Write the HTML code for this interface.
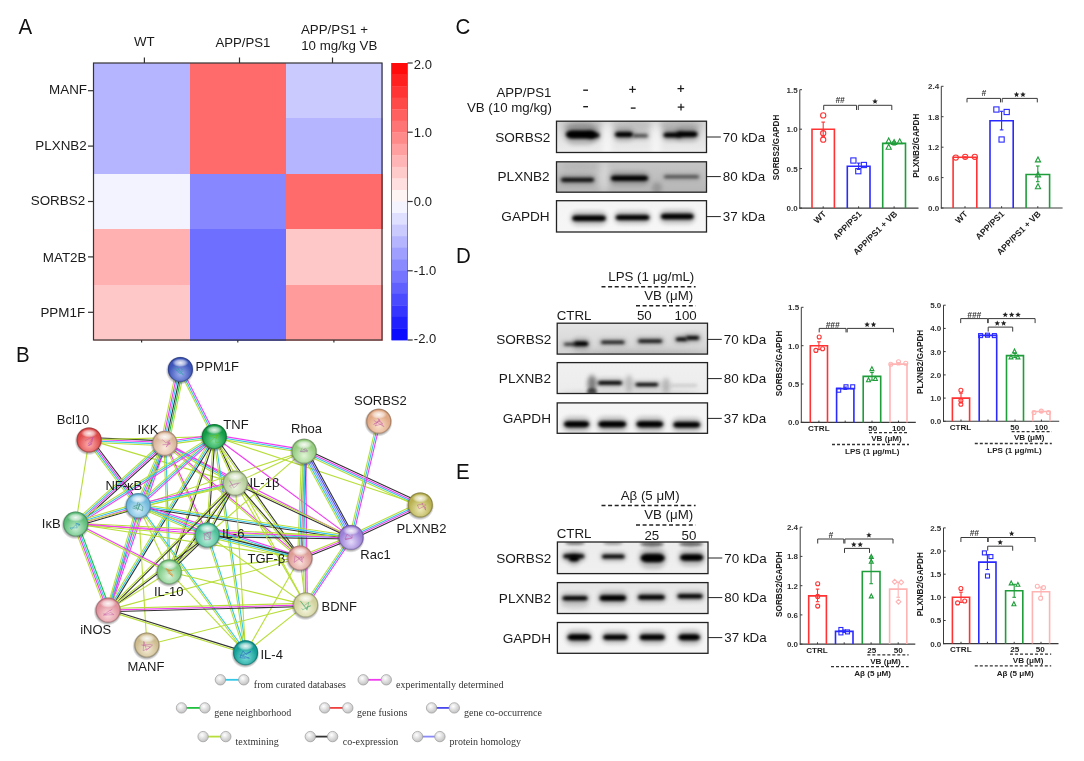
<!DOCTYPE html><html><head><meta charset="utf-8"><title>Figure</title>
<style>html,body{margin:0;padding:0;background:#fff;}svg{display:block;will-change:transform;filter:blur(0.35px);}</style></head><body>
<svg width="1084" height="761" viewBox="0 0 1084 761">
<defs>
<filter id="blur1" x="-50%" y="-100%" width="200%" height="300%"><feGaussianBlur stdDeviation="0.8"/></filter>
<filter id="blur2" x="-50%" y="-100%" width="200%" height="300%"><feGaussianBlur stdDeviation="1.35"/></filter>
<filter id="blur3" x="-50%" y="-100%" width="200%" height="300%"><feGaussianBlur stdDeviation="2.0"/></filter>
<filter id="blur4" x="-50%" y="-100%" width="200%" height="300%"><feGaussianBlur stdDeviation="3.0"/></filter>
</defs>
<rect x="0.0" y="0.0" width="1084.0" height="761.0" fill="#fff" stroke="none" stroke-width="1" />
<text transform="translate(18.6,34.3) scale(1,1.09)" font-size="20.5" fill="#111" font-family='"Liberation Sans", sans-serif'>A</text>
<rect x="93.5" y="63.0" width="96.7" height="55.9" fill="rgb(181,181,255)" stroke="none" stroke-width="1" shape-rendering="crispEdges"/>
<rect x="189.7" y="63.0" width="96.7" height="55.9" fill="rgb(255,107,107)" stroke="none" stroke-width="1" shape-rendering="crispEdges"/>
<rect x="285.8" y="63.0" width="96.7" height="55.9" fill="rgb(202,202,255)" stroke="none" stroke-width="1" shape-rendering="crispEdges"/>
<rect x="93.5" y="118.4" width="96.7" height="55.9" fill="rgb(181,181,255)" stroke="none" stroke-width="1" shape-rendering="crispEdges"/>
<rect x="189.7" y="118.4" width="96.7" height="55.9" fill="rgb(255,107,107)" stroke="none" stroke-width="1" shape-rendering="crispEdges"/>
<rect x="285.8" y="118.4" width="96.7" height="55.9" fill="rgb(181,181,255)" stroke="none" stroke-width="1" shape-rendering="crispEdges"/>
<rect x="93.5" y="173.8" width="96.7" height="55.9" fill="rgb(243,243,255)" stroke="none" stroke-width="1" shape-rendering="crispEdges"/>
<rect x="189.7" y="173.8" width="96.7" height="55.9" fill="rgb(135,135,255)" stroke="none" stroke-width="1" shape-rendering="crispEdges"/>
<rect x="285.8" y="173.8" width="96.7" height="55.9" fill="rgb(255,107,107)" stroke="none" stroke-width="1" shape-rendering="crispEdges"/>
<rect x="93.5" y="229.2" width="96.7" height="55.9" fill="rgb(255,176,176)" stroke="none" stroke-width="1" shape-rendering="crispEdges"/>
<rect x="189.7" y="229.2" width="96.7" height="55.9" fill="rgb(110,110,255)" stroke="none" stroke-width="1" shape-rendering="crispEdges"/>
<rect x="285.8" y="229.2" width="96.7" height="55.9" fill="rgb(255,200,200)" stroke="none" stroke-width="1" shape-rendering="crispEdges"/>
<rect x="93.5" y="284.6" width="96.7" height="55.9" fill="rgb(255,200,200)" stroke="none" stroke-width="1" shape-rendering="crispEdges"/>
<rect x="189.7" y="284.6" width="96.7" height="55.9" fill="rgb(110,110,255)" stroke="none" stroke-width="1" shape-rendering="crispEdges"/>
<rect x="285.8" y="284.6" width="96.7" height="55.9" fill="rgb(255,155,155)" stroke="none" stroke-width="1" shape-rendering="crispEdges"/>
<rect x="93.5" y="63.0" width="288.5" height="277.0" fill="none" stroke="#333" stroke-width="1.2" />
<line x1="144.4" y1="57.5" x2="144.4" y2="63.0" stroke="#333" stroke-width="1.2" />
<line x1="239.5" y1="57.5" x2="239.5" y2="63.0" stroke="#333" stroke-width="1.2" />
<line x1="332.5" y1="57.5" x2="332.5" y2="63.0" stroke="#333" stroke-width="1.2" />
<line x1="141.6" y1="340.0" x2="141.6" y2="342.5" stroke="#333" stroke-width="1.2" />
<line x1="237.8" y1="340.0" x2="237.8" y2="342.5" stroke="#333" stroke-width="1.2" />
<line x1="333.9" y1="340.0" x2="333.9" y2="342.5" stroke="#333" stroke-width="1.2" />
<line x1="88.0" y1="90.7" x2="93.5" y2="90.7" stroke="#333" stroke-width="1.2" />
<text x="87.0" y="93.6" font-size="13.4" text-anchor="end" font-weight="normal" fill="#1a1a1a" font-family='"Liberation Sans", sans-serif' >MANF</text>
<line x1="88.0" y1="146.1" x2="93.5" y2="146.1" stroke="#333" stroke-width="1.2" />
<text x="86.7" y="149.6" font-size="13.4" text-anchor="end" font-weight="normal" fill="#1a1a1a" font-family='"Liberation Sans", sans-serif' >PLXNB2</text>
<line x1="88.0" y1="201.5" x2="93.5" y2="201.5" stroke="#333" stroke-width="1.2" />
<text x="85.1" y="205.1" font-size="13.4" text-anchor="end" font-weight="normal" fill="#1a1a1a" font-family='"Liberation Sans", sans-serif' >SORBS2</text>
<line x1="88.0" y1="256.9" x2="93.5" y2="256.9" stroke="#333" stroke-width="1.2" />
<text x="86.5" y="261.5" font-size="13.4" text-anchor="end" font-weight="normal" fill="#1a1a1a" font-family='"Liberation Sans", sans-serif' >MAT2B</text>
<line x1="88.0" y1="312.3" x2="93.5" y2="312.3" stroke="#333" stroke-width="1.2" />
<text x="85.1" y="316.5" font-size="13.4" text-anchor="end" font-weight="normal" fill="#1a1a1a" font-family='"Liberation Sans", sans-serif' >PPM1F</text>
<text x="144.4" y="46.4" font-size="13.3" text-anchor="middle" font-weight="normal" fill="#1a1a1a" font-family='"Liberation Sans", sans-serif' >WT</text>
<text x="242.9" y="46.6" font-size="13.2" text-anchor="middle" font-weight="normal" fill="#1a1a1a" font-family='"Liberation Sans", sans-serif' >APP/PS1</text>
<text x="301.0" y="34.3" font-size="13.3" text-anchor="start" font-weight="normal" fill="#1a1a1a" font-family='"Liberation Sans", sans-serif' >APP/PS1 +</text>
<text x="301.2" y="50.2" font-size="13.3" text-anchor="start" font-weight="normal" fill="#1a1a1a" font-family='"Liberation Sans", sans-serif' >10 mg/kg VB</text>
<rect x="391.5" y="63.0" width="16.0" height="11.9" fill="rgb(255,11,11)" stroke="none" stroke-width="1" />
<rect x="391.5" y="74.5" width="16.0" height="11.9" fill="rgb(255,32,32)" stroke="none" stroke-width="1" />
<rect x="391.5" y="86.1" width="16.0" height="11.9" fill="rgb(255,53,53)" stroke="none" stroke-width="1" />
<rect x="391.5" y="97.6" width="16.0" height="11.9" fill="rgb(255,74,74)" stroke="none" stroke-width="1" />
<rect x="391.5" y="109.2" width="16.0" height="11.9" fill="rgb(255,96,96)" stroke="none" stroke-width="1" />
<rect x="391.5" y="120.7" width="16.0" height="11.9" fill="rgb(255,117,117)" stroke="none" stroke-width="1" />
<rect x="391.5" y="132.2" width="16.0" height="11.9" fill="rgb(255,138,138)" stroke="none" stroke-width="1" />
<rect x="391.5" y="143.8" width="16.0" height="11.9" fill="rgb(255,159,159)" stroke="none" stroke-width="1" />
<rect x="391.5" y="155.3" width="16.0" height="11.9" fill="rgb(255,181,181)" stroke="none" stroke-width="1" />
<rect x="391.5" y="166.9" width="16.0" height="11.9" fill="rgb(255,202,202)" stroke="none" stroke-width="1" />
<rect x="391.5" y="178.4" width="16.0" height="11.9" fill="rgb(255,223,223)" stroke="none" stroke-width="1" />
<rect x="391.5" y="190.0" width="16.0" height="11.9" fill="rgb(255,244,244)" stroke="none" stroke-width="1" />
<rect x="391.5" y="201.5" width="16.0" height="11.9" fill="rgb(244,244,255)" stroke="none" stroke-width="1" />
<rect x="391.5" y="213.0" width="16.0" height="11.9" fill="rgb(223,223,255)" stroke="none" stroke-width="1" />
<rect x="391.5" y="224.6" width="16.0" height="11.9" fill="rgb(202,202,255)" stroke="none" stroke-width="1" />
<rect x="391.5" y="236.1" width="16.0" height="11.9" fill="rgb(181,181,255)" stroke="none" stroke-width="1" />
<rect x="391.5" y="247.7" width="16.0" height="11.9" fill="rgb(159,159,255)" stroke="none" stroke-width="1" />
<rect x="391.5" y="259.2" width="16.0" height="11.9" fill="rgb(138,138,255)" stroke="none" stroke-width="1" />
<rect x="391.5" y="270.8" width="16.0" height="11.9" fill="rgb(117,117,255)" stroke="none" stroke-width="1" />
<rect x="391.5" y="282.3" width="16.0" height="11.9" fill="rgb(96,96,255)" stroke="none" stroke-width="1" />
<rect x="391.5" y="293.8" width="16.0" height="11.9" fill="rgb(74,74,255)" stroke="none" stroke-width="1" />
<rect x="391.5" y="305.4" width="16.0" height="11.9" fill="rgb(53,53,255)" stroke="none" stroke-width="1" />
<rect x="391.5" y="316.9" width="16.0" height="11.9" fill="rgb(32,32,255)" stroke="none" stroke-width="1" />
<rect x="391.5" y="328.5" width="16.0" height="11.9" fill="rgb(11,11,255)" stroke="none" stroke-width="1" />
<line x1="391.5" y1="63.0" x2="391.5" y2="340.0" stroke="#666" stroke-width="0.8" />
<line x1="407.5" y1="63.0" x2="407.5" y2="340.0" stroke="#666" stroke-width="0.8" />
<line x1="407.5" y1="63.0" x2="412.7" y2="63.0" stroke="#333" stroke-width="1.2" />
<text x="413.8" y="68.9" font-size="13" text-anchor="start" font-weight="normal" fill="#1a1a1a" font-family='"Liberation Sans", sans-serif' >2.0</text>
<line x1="407.5" y1="132.2" x2="412.7" y2="132.2" stroke="#333" stroke-width="1.2" />
<text x="413.8" y="136.9" font-size="13" text-anchor="start" font-weight="normal" fill="#1a1a1a" font-family='"Liberation Sans", sans-serif' >1.0</text>
<line x1="407.5" y1="201.5" x2="412.7" y2="201.5" stroke="#333" stroke-width="1.2" />
<text x="413.8" y="206.2" font-size="13" text-anchor="start" font-weight="normal" fill="#1a1a1a" font-family='"Liberation Sans", sans-serif' >0.0</text>
<line x1="407.5" y1="270.8" x2="412.7" y2="270.8" stroke="#333" stroke-width="1.2" />
<text x="413.8" y="274.6" font-size="13" text-anchor="start" font-weight="normal" fill="#1a1a1a" font-family='"Liberation Sans", sans-serif' >-1.0</text>
<line x1="407.5" y1="340.0" x2="412.7" y2="340.0" stroke="#333" stroke-width="1.2" />
<text x="413.8" y="342.5" font-size="13" text-anchor="start" font-weight="normal" fill="#1a1a1a" font-family='"Liberation Sans", sans-serif' >-2.0</text>
<text transform="translate(16.0,362.4) scale(1,1.09)" font-size="20.5" fill="#111" font-family='"Liberation Sans", sans-serif'>B</text>
<g stroke-linecap="butt" fill="none">
<line x1="184.3" y1="370.2" x2="168.7" y2="444.1" stroke="#b8de3a" stroke-width="1.1"/>
<line x1="182.7" y1="369.9" x2="167.1" y2="443.8" stroke="#22c040" stroke-width="1.1"/>
<line x1="181.2" y1="369.6" x2="165.6" y2="443.5" stroke="#333333" stroke-width="1.1"/>
<line x1="179.6" y1="369.2" x2="164.0" y2="443.1" stroke="#33c6e6" stroke-width="1.1"/>
<line x1="178.1" y1="368.9" x2="162.5" y2="442.8" stroke="#f03cf0" stroke-width="1.1"/>
<line x1="176.5" y1="368.6" x2="160.9" y2="442.5" stroke="#b8de3a" stroke-width="1.1"/>
<line x1="181.8" y1="368.7" x2="215.7" y2="435.8" stroke="#f03cf0" stroke-width="1.1"/>
<line x1="180.4" y1="369.4" x2="214.3" y2="436.5" stroke="#33c6e6" stroke-width="1.1"/>
<line x1="179.0" y1="370.1" x2="212.9" y2="437.2" stroke="#b8de3a" stroke-width="1.1"/>
<line x1="89.2" y1="437.5" x2="164.9" y2="440.9" stroke="#333333" stroke-width="1.1"/>
<line x1="89.1" y1="439.1" x2="164.8" y2="442.5" stroke="#f03cf0" stroke-width="1.1"/>
<line x1="89.1" y1="440.7" x2="164.8" y2="444.1" stroke="#33c6e6" stroke-width="1.1"/>
<line x1="89.0" y1="442.3" x2="164.7" y2="445.7" stroke="#b8de3a" stroke-width="1.1"/>
<line x1="91.0" y1="438.5" x2="140.2" y2="504.2" stroke="#333333" stroke-width="1.1"/>
<line x1="89.7" y1="439.4" x2="138.9" y2="505.1" stroke="#f03cf0" stroke-width="1.1"/>
<line x1="88.5" y1="440.4" x2="137.7" y2="506.1" stroke="#33c6e6" stroke-width="1.1"/>
<line x1="87.2" y1="441.3" x2="136.4" y2="507.0" stroke="#b8de3a" stroke-width="1.1"/>
<line x1="89.1" y1="439.9" x2="75.7" y2="524.0" stroke="#b8de3a" stroke-width="1.1"/>
<line x1="89.1" y1="439.9" x2="214.3" y2="436.5" stroke="#b8de3a" stroke-width="1.1"/>
<line x1="89.1" y1="439.9" x2="235.3" y2="483.1" stroke="#b8de3a" stroke-width="1.1"/>
<line x1="164.6" y1="441.7" x2="214.1" y2="434.9" stroke="#f03cf0" stroke-width="1.1"/>
<line x1="164.8" y1="443.3" x2="214.3" y2="436.5" stroke="#33c6e6" stroke-width="1.1"/>
<line x1="165.0" y1="444.9" x2="214.5" y2="438.1" stroke="#b8de3a" stroke-width="1.1"/>
<line x1="167.0" y1="444.2" x2="140.5" y2="506.5" stroke="#333333" stroke-width="1.1"/>
<line x1="165.5" y1="443.6" x2="139.0" y2="505.9" stroke="#f03cf0" stroke-width="1.1"/>
<line x1="164.1" y1="443.0" x2="137.6" y2="505.3" stroke="#33c6e6" stroke-width="1.1"/>
<line x1="162.6" y1="442.4" x2="136.1" y2="504.7" stroke="#b8de3a" stroke-width="1.1"/>
<line x1="166.4" y1="445.1" x2="77.3" y2="525.8" stroke="#333333" stroke-width="1.1"/>
<line x1="165.3" y1="443.9" x2="76.2" y2="524.6" stroke="#f03cf0" stroke-width="1.1"/>
<line x1="164.3" y1="442.7" x2="75.2" y2="523.4" stroke="#33c6e6" stroke-width="1.1"/>
<line x1="163.2" y1="441.5" x2="74.1" y2="522.2" stroke="#b8de3a" stroke-width="1.1"/>
<line x1="165.5" y1="443.0" x2="207.9" y2="534.7" stroke="#f03cf0" stroke-width="1.1"/>
<line x1="164.1" y1="443.6" x2="206.5" y2="535.3" stroke="#b8de3a" stroke-width="1.1"/>
<line x1="166.3" y1="443.8" x2="109.6" y2="610.6" stroke="#f03cf0" stroke-width="1.1"/>
<line x1="164.8" y1="443.3" x2="108.1" y2="610.1" stroke="#33c6e6" stroke-width="1.1"/>
<line x1="163.3" y1="442.8" x2="106.6" y2="609.6" stroke="#b8de3a" stroke-width="1.1"/>
<line x1="165.6" y1="441.9" x2="236.1" y2="481.7" stroke="#f03cf0" stroke-width="1.1"/>
<line x1="164.8" y1="443.3" x2="235.3" y2="483.1" stroke="#33c6e6" stroke-width="1.1"/>
<line x1="164.0" y1="444.7" x2="234.5" y2="484.5" stroke="#b8de3a" stroke-width="1.1"/>
<line x1="164.8" y1="443.3" x2="351.1" y2="537.4" stroke="#f03cf0" stroke-width="1.1"/>
<line x1="165.6" y1="443.3" x2="170.1" y2="571.8" stroke="#33c6e6" stroke-width="1.1"/>
<line x1="164.0" y1="443.3" x2="168.5" y2="571.8" stroke="#b8de3a" stroke-width="1.1"/>
<line x1="165.3" y1="442.7" x2="300.5" y2="557.4" stroke="#f03cf0" stroke-width="1.1"/>
<line x1="164.3" y1="443.9" x2="299.5" y2="558.6" stroke="#b8de3a" stroke-width="1.1"/>
<line x1="215.0" y1="436.2" x2="236.0" y2="482.8" stroke="#333333" stroke-width="1.1"/>
<line x1="213.6" y1="436.8" x2="234.6" y2="483.4" stroke="#b8de3a" stroke-width="1.1"/>
<line x1="215.1" y1="436.6" x2="208.0" y2="535.1" stroke="#333333" stroke-width="1.1"/>
<line x1="213.5" y1="436.4" x2="206.4" y2="534.9" stroke="#b8de3a" stroke-width="1.1"/>
<line x1="215.4" y1="437.7" x2="139.4" y2="506.8" stroke="#f03cf0" stroke-width="1.1"/>
<line x1="214.3" y1="436.5" x2="138.3" y2="505.6" stroke="#33c6e6" stroke-width="1.1"/>
<line x1="213.2" y1="435.3" x2="137.2" y2="504.4" stroke="#b8de3a" stroke-width="1.1"/>
<line x1="215.2" y1="437.9" x2="76.6" y2="525.4" stroke="#f03cf0" stroke-width="1.1"/>
<line x1="214.3" y1="436.5" x2="75.7" y2="524.0" stroke="#33c6e6" stroke-width="1.1"/>
<line x1="213.4" y1="435.1" x2="74.8" y2="522.6" stroke="#b8de3a" stroke-width="1.1"/>
<line x1="215.1" y1="436.8" x2="170.1" y2="572.1" stroke="#333333" stroke-width="1.1"/>
<line x1="213.5" y1="436.2" x2="168.5" y2="571.5" stroke="#b8de3a" stroke-width="1.1"/>
<line x1="215.7" y1="437.3" x2="109.5" y2="610.9" stroke="#333333" stroke-width="1.1"/>
<line x1="214.3" y1="436.5" x2="108.1" y2="610.1" stroke="#33c6e6" stroke-width="1.1"/>
<line x1="212.9" y1="435.7" x2="106.7" y2="609.3" stroke="#b8de3a" stroke-width="1.1"/>
<line x1="215.1" y1="436.4" x2="246.4" y2="652.6" stroke="#33c6e6" stroke-width="1.1"/>
<line x1="213.5" y1="436.6" x2="244.8" y2="652.8" stroke="#b8de3a" stroke-width="1.1"/>
<line x1="214.6" y1="434.9" x2="304.4" y2="449.6" stroke="#f03cf0" stroke-width="1.1"/>
<line x1="214.3" y1="436.5" x2="304.1" y2="451.2" stroke="#33c6e6" stroke-width="1.1"/>
<line x1="214.0" y1="438.1" x2="303.8" y2="452.8" stroke="#b8de3a" stroke-width="1.1"/>
<line x1="215.0" y1="436.0" x2="300.7" y2="557.5" stroke="#333333" stroke-width="1.1"/>
<line x1="213.6" y1="437.0" x2="299.3" y2="558.5" stroke="#b8de3a" stroke-width="1.1"/>
<line x1="214.3" y1="436.5" x2="305.7" y2="604.9" stroke="#b8de3a" stroke-width="1.1"/>
<line x1="214.3" y1="436.5" x2="351.1" y2="537.4" stroke="#f03cf0" stroke-width="1.1"/>
<line x1="214.3" y1="436.5" x2="420.3" y2="504.9" stroke="#b8de3a" stroke-width="1.1"/>
<line x1="304.1" y1="451.2" x2="235.3" y2="483.1" stroke="#b8de3a" stroke-width="1.1"/>
<line x1="306.9" y1="449.7" x2="353.9" y2="535.9" stroke="#333333" stroke-width="1.1"/>
<line x1="305.5" y1="450.4" x2="352.5" y2="536.6" stroke="#4848f0" stroke-width="1.1"/>
<line x1="304.1" y1="451.2" x2="351.1" y2="537.4" stroke="#8a8af6" stroke-width="1.1"/>
<line x1="302.7" y1="452.0" x2="349.7" y2="538.2" stroke="#33c6e6" stroke-width="1.1"/>
<line x1="301.3" y1="452.7" x2="348.3" y2="538.9" stroke="#b8de3a" stroke-width="1.1"/>
<line x1="306.5" y1="451.3" x2="302.4" y2="558.1" stroke="#333333" stroke-width="1.1"/>
<line x1="304.9" y1="451.2" x2="300.8" y2="558.0" stroke="#f03cf0" stroke-width="1.1"/>
<line x1="303.3" y1="451.2" x2="299.2" y2="558.0" stroke="#33c6e6" stroke-width="1.1"/>
<line x1="301.7" y1="451.1" x2="297.6" y2="557.9" stroke="#b8de3a" stroke-width="1.1"/>
<line x1="305.1" y1="449.0" x2="421.3" y2="502.7" stroke="#333333" stroke-width="1.1"/>
<line x1="304.4" y1="450.5" x2="420.6" y2="504.2" stroke="#f03cf0" stroke-width="1.1"/>
<line x1="303.8" y1="451.9" x2="420.0" y2="505.6" stroke="#33c6e6" stroke-width="1.1"/>
<line x1="303.1" y1="453.4" x2="419.3" y2="507.1" stroke="#b8de3a" stroke-width="1.1"/>
<line x1="305.7" y1="451.2" x2="307.3" y2="604.9" stroke="#f03cf0" stroke-width="1.1"/>
<line x1="304.1" y1="451.2" x2="305.7" y2="604.9" stroke="#33c6e6" stroke-width="1.1"/>
<line x1="302.5" y1="451.2" x2="304.1" y2="604.9" stroke="#b8de3a" stroke-width="1.1"/>
<line x1="304.1" y1="451.2" x2="207.2" y2="535.0" stroke="#b8de3a" stroke-width="1.1"/>
<line x1="304.1" y1="451.2" x2="138.3" y2="505.6" stroke="#b8de3a" stroke-width="1.1"/>
<line x1="380.4" y1="421.6" x2="352.7" y2="537.8" stroke="#f03cf0" stroke-width="1.1"/>
<line x1="378.8" y1="421.2" x2="351.1" y2="537.4" stroke="#33c6e6" stroke-width="1.1"/>
<line x1="377.2" y1="420.8" x2="349.5" y2="537.0" stroke="#b8de3a" stroke-width="1.1"/>
<line x1="421.3" y1="507.1" x2="352.1" y2="539.6" stroke="#333333" stroke-width="1.1"/>
<line x1="420.6" y1="505.6" x2="351.4" y2="538.1" stroke="#f03cf0" stroke-width="1.1"/>
<line x1="420.0" y1="504.2" x2="350.8" y2="536.7" stroke="#33c6e6" stroke-width="1.1"/>
<line x1="419.3" y1="502.7" x2="350.1" y2="535.2" stroke="#b8de3a" stroke-width="1.1"/>
<line x1="351.7" y1="538.9" x2="300.6" y2="559.5" stroke="#333333" stroke-width="1.1"/>
<line x1="351.1" y1="537.4" x2="300.0" y2="558.0" stroke="#f03cf0" stroke-width="1.1"/>
<line x1="350.5" y1="535.9" x2="299.4" y2="556.5" stroke="#b8de3a" stroke-width="1.1"/>
<line x1="350.8" y1="538.1" x2="235.0" y2="483.8" stroke="#333333" stroke-width="1.1"/>
<line x1="351.4" y1="536.7" x2="235.6" y2="482.4" stroke="#b8de3a" stroke-width="1.1"/>
<line x1="351.1" y1="539.0" x2="207.2" y2="536.6" stroke="#333333" stroke-width="1.1"/>
<line x1="351.1" y1="537.4" x2="207.2" y2="535.0" stroke="#33c6e6" stroke-width="1.1"/>
<line x1="351.1" y1="535.8" x2="207.2" y2="533.4" stroke="#b8de3a" stroke-width="1.1"/>
<line x1="350.9" y1="539.0" x2="138.1" y2="507.2" stroke="#333333" stroke-width="1.1"/>
<line x1="351.1" y1="537.4" x2="138.3" y2="505.6" stroke="#33c6e6" stroke-width="1.1"/>
<line x1="351.3" y1="535.8" x2="138.5" y2="504.0" stroke="#b8de3a" stroke-width="1.1"/>
<line x1="352.4" y1="538.3" x2="307.0" y2="605.8" stroke="#f03cf0" stroke-width="1.1"/>
<line x1="351.1" y1="537.4" x2="305.7" y2="604.9" stroke="#33c6e6" stroke-width="1.1"/>
<line x1="349.8" y1="536.5" x2="304.4" y2="604.0" stroke="#b8de3a" stroke-width="1.1"/>
<line x1="351.1" y1="538.2" x2="75.7" y2="524.8" stroke="#f03cf0" stroke-width="1.1"/>
<line x1="351.1" y1="536.6" x2="75.7" y2="523.2" stroke="#b8de3a" stroke-width="1.1"/>
<line x1="137.9" y1="504.0" x2="234.9" y2="481.5" stroke="#f03cf0" stroke-width="1.1"/>
<line x1="138.3" y1="505.6" x2="235.3" y2="483.1" stroke="#33c6e6" stroke-width="1.1"/>
<line x1="138.7" y1="507.2" x2="235.7" y2="484.7" stroke="#b8de3a" stroke-width="1.1"/>
<line x1="138.9" y1="504.1" x2="207.8" y2="533.5" stroke="#f03cf0" stroke-width="1.1"/>
<line x1="138.3" y1="505.6" x2="207.2" y2="535.0" stroke="#33c6e6" stroke-width="1.1"/>
<line x1="137.7" y1="507.1" x2="206.6" y2="536.5" stroke="#b8de3a" stroke-width="1.1"/>
<line x1="139.0" y1="507.9" x2="76.4" y2="526.3" stroke="#333333" stroke-width="1.1"/>
<line x1="138.5" y1="506.4" x2="75.9" y2="524.8" stroke="#f03cf0" stroke-width="1.1"/>
<line x1="138.1" y1="504.8" x2="75.5" y2="523.2" stroke="#33c6e6" stroke-width="1.1"/>
<line x1="137.6" y1="503.3" x2="75.0" y2="521.7" stroke="#b8de3a" stroke-width="1.1"/>
<line x1="139.8" y1="506.0" x2="109.6" y2="610.5" stroke="#f03cf0" stroke-width="1.1"/>
<line x1="138.3" y1="505.6" x2="108.1" y2="610.1" stroke="#33c6e6" stroke-width="1.1"/>
<line x1="136.8" y1="505.2" x2="106.6" y2="609.7" stroke="#b8de3a" stroke-width="1.1"/>
<line x1="138.3" y1="505.6" x2="169.3" y2="571.8" stroke="#b8de3a" stroke-width="1.1"/>
<line x1="138.8" y1="504.1" x2="300.5" y2="556.5" stroke="#f03cf0" stroke-width="1.1"/>
<line x1="138.3" y1="505.6" x2="300.0" y2="558.0" stroke="#33c6e6" stroke-width="1.1"/>
<line x1="137.8" y1="507.1" x2="299.5" y2="559.5" stroke="#b8de3a" stroke-width="1.1"/>
<line x1="138.9" y1="505.1" x2="246.2" y2="652.2" stroke="#33c6e6" stroke-width="1.1"/>
<line x1="137.7" y1="506.1" x2="245.0" y2="653.2" stroke="#b8de3a" stroke-width="1.1"/>
<line x1="138.3" y1="505.6" x2="146.9" y2="645.0" stroke="#b8de3a" stroke-width="1.1"/>
<line x1="236.0" y1="483.5" x2="207.9" y2="535.4" stroke="#333333" stroke-width="1.1"/>
<line x1="234.6" y1="482.7" x2="206.5" y2="534.6" stroke="#b8de3a" stroke-width="1.1"/>
<line x1="235.9" y1="483.6" x2="169.9" y2="572.3" stroke="#333333" stroke-width="1.1"/>
<line x1="234.7" y1="482.6" x2="168.7" y2="571.3" stroke="#b8de3a" stroke-width="1.1"/>
<line x1="235.9" y1="483.7" x2="108.7" y2="610.7" stroke="#333333" stroke-width="1.1"/>
<line x1="234.7" y1="482.5" x2="107.5" y2="609.5" stroke="#b8de3a" stroke-width="1.1"/>
<line x1="235.9" y1="482.6" x2="300.6" y2="557.5" stroke="#333333" stroke-width="1.1"/>
<line x1="234.7" y1="483.6" x2="299.4" y2="558.5" stroke="#b8de3a" stroke-width="1.1"/>
<line x1="235.3" y1="483.1" x2="305.7" y2="604.9" stroke="#b8de3a" stroke-width="1.1"/>
<line x1="235.3" y1="483.1" x2="245.6" y2="652.7" stroke="#b8de3a" stroke-width="1.1"/>
<line x1="235.3" y1="483.1" x2="75.7" y2="524.0" stroke="#b8de3a" stroke-width="1.1"/>
<line x1="77.9" y1="523.2" x2="110.3" y2="609.3" stroke="#22c040" stroke-width="1.1"/>
<line x1="76.4" y1="523.7" x2="108.8" y2="609.8" stroke="#33c6e6" stroke-width="1.1"/>
<line x1="75.0" y1="524.3" x2="107.4" y2="610.4" stroke="#f03cf0" stroke-width="1.1"/>
<line x1="73.5" y1="524.8" x2="105.9" y2="610.9" stroke="#b8de3a" stroke-width="1.1"/>
<line x1="75.8" y1="523.2" x2="207.3" y2="534.2" stroke="#f03cf0" stroke-width="1.1"/>
<line x1="75.6" y1="524.8" x2="207.1" y2="535.8" stroke="#b8de3a" stroke-width="1.1"/>
<line x1="76.1" y1="523.3" x2="169.7" y2="571.1" stroke="#f03cf0" stroke-width="1.1"/>
<line x1="75.3" y1="524.7" x2="168.9" y2="572.5" stroke="#b8de3a" stroke-width="1.1"/>
<line x1="75.7" y1="524.0" x2="300.0" y2="558.0" stroke="#b8de3a" stroke-width="1.1"/>
<line x1="207.8" y1="535.6" x2="169.9" y2="572.4" stroke="#333333" stroke-width="1.1"/>
<line x1="206.6" y1="534.4" x2="168.7" y2="571.2" stroke="#b8de3a" stroke-width="1.1"/>
<line x1="207.7" y1="535.6" x2="108.6" y2="610.7" stroke="#333333" stroke-width="1.1"/>
<line x1="206.7" y1="534.4" x2="107.6" y2="609.5" stroke="#b8de3a" stroke-width="1.1"/>
<line x1="207.6" y1="533.4" x2="300.4" y2="556.4" stroke="#333333" stroke-width="1.1"/>
<line x1="207.2" y1="535.0" x2="300.0" y2="558.0" stroke="#33c6e6" stroke-width="1.1"/>
<line x1="206.8" y1="536.6" x2="299.6" y2="559.6" stroke="#b8de3a" stroke-width="1.1"/>
<line x1="207.2" y1="535.0" x2="305.7" y2="604.9" stroke="#b8de3a" stroke-width="1.1"/>
<line x1="208.0" y1="534.8" x2="246.4" y2="652.5" stroke="#33c6e6" stroke-width="1.1"/>
<line x1="206.4" y1="535.2" x2="244.8" y2="652.9" stroke="#b8de3a" stroke-width="1.1"/>
<line x1="300.0" y1="558.0" x2="305.7" y2="604.9" stroke="#b8de3a" stroke-width="1.1"/>
<line x1="300.0" y1="558.0" x2="169.3" y2="571.8" stroke="#b8de3a" stroke-width="1.1"/>
<line x1="300.0" y1="558.0" x2="108.1" y2="610.1" stroke="#b8de3a" stroke-width="1.1"/>
<line x1="300.0" y1="558.0" x2="245.6" y2="652.7" stroke="#b8de3a" stroke-width="1.1"/>
<line x1="169.3" y1="571.8" x2="108.1" y2="610.1" stroke="#b8de3a" stroke-width="1.1"/>
<line x1="169.3" y1="571.8" x2="305.7" y2="604.9" stroke="#b8de3a" stroke-width="1.1"/>
<line x1="169.3" y1="571.8" x2="245.6" y2="652.7" stroke="#b8de3a" stroke-width="1.1"/>
<line x1="305.7" y1="606.5" x2="108.1" y2="611.7" stroke="#333333" stroke-width="1.1"/>
<line x1="305.7" y1="604.9" x2="108.1" y2="610.1" stroke="#f03cf0" stroke-width="1.1"/>
<line x1="305.7" y1="603.3" x2="108.1" y2="608.5" stroke="#b8de3a" stroke-width="1.1"/>
<line x1="305.7" y1="604.9" x2="245.6" y2="652.7" stroke="#b8de3a" stroke-width="1.1"/>
<line x1="305.7" y1="604.9" x2="146.9" y2="645.0" stroke="#b8de3a" stroke-width="1.1"/>
<line x1="108.3" y1="609.3" x2="245.8" y2="651.9" stroke="#333333" stroke-width="1.1"/>
<line x1="107.9" y1="610.9" x2="245.4" y2="653.5" stroke="#b8de3a" stroke-width="1.1"/>
</g>
<radialGradient id="hl" cx="0.5" cy="0.5" r="0.5"><stop offset="0" stop-color="#fff" stop-opacity="0.9"/><stop offset="0.6" stop-color="#fff" stop-opacity="0.55"/><stop offset="1" stop-color="#fff" stop-opacity="0"/></radialGradient>
<radialGradient id="shd" cx="0.5" cy="0.5" r="0.5"><stop offset="0.75" stop-color="#000" stop-opacity="0.45"/><stop offset="1" stop-color="#000" stop-opacity="0"/></radialGradient>
<radialGradient id="g_PPM1F" cx="0.5" cy="0.68" r="0.62"><stop offset="0" stop-color="#9fb0f0"/><stop offset="0.75" stop-color="#3d55b8"/><stop offset="1" stop-color="#3d55b8" stop-opacity="1"/></radialGradient>
<circle cx="180.0" cy="370.6" r="14.2" fill="url(#shd)"/>
<circle cx="180.4" cy="369.4" r="12.5" fill="url(#g_PPM1F)"/>
<circle cx="180.4" cy="369.4" r="12.0" fill="none" stroke="#000" stroke-opacity="0.22" stroke-width="1.2"/>
<polyline points="180.2,371.8 176.7,366.3 178.1,368.3 183.6,375.2 174.5,368.3 180.1,374.1 182.0,371.6 181.3,368.0 183.2,370.1" fill="none" stroke="#20a0a0" stroke-width="0.8" opacity="0.55"/>
<ellipse cx="180.4" cy="362.8" rx="8.2" ry="4.3" fill="url(#hl)"/>
<radialGradient id="g_Bcl10" cx="0.5" cy="0.68" r="0.62"><stop offset="0" stop-color="#ffb0b0"/><stop offset="0.75" stop-color="#dd4a4a"/><stop offset="1" stop-color="#dd4a4a" stop-opacity="1"/></radialGradient>
<circle cx="88.7" cy="441.1" r="14.2" fill="url(#shd)"/>
<circle cx="89.1" cy="439.9" r="12.5" fill="url(#g_Bcl10)"/>
<circle cx="89.1" cy="439.9" r="12.0" fill="none" stroke="#000" stroke-opacity="0.22" stroke-width="1.2"/>
<polyline points="92.7,440.7 87.8,444.2 93.5,436.9 89.3,445.5 91.8,443.1 87.8,445.7 91.6,444.6 92.7,436.9 85.0,440.6" fill="none" stroke="#c050a0" stroke-width="0.8" opacity="0.55"/>
<ellipse cx="89.1" cy="433.3" rx="8.2" ry="4.3" fill="url(#hl)"/>
<radialGradient id="g_IKK" cx="0.5" cy="0.68" r="0.62"><stop offset="0" stop-color="#fbe9dc"/><stop offset="0.75" stop-color="#d9b59a"/><stop offset="1" stop-color="#d9b59a" stop-opacity="1"/></radialGradient>
<circle cx="164.4" cy="444.5" r="14.2" fill="url(#shd)"/>
<circle cx="164.8" cy="443.3" r="12.5" fill="url(#g_IKK)"/>
<circle cx="164.8" cy="443.3" r="12.0" fill="none" stroke="#000" stroke-opacity="0.22" stroke-width="1.2"/>
<polyline points="162.2,440.5 162.3,439.3 165.8,442.8 169.7,440.5 166.2,447.1 170.4,442.8 167.4,442.7 170.3,444.0 162.5,444.8" fill="none" stroke="#c050a0" stroke-width="0.8" opacity="0.55"/>
<ellipse cx="164.8" cy="436.7" rx="8.2" ry="4.3" fill="url(#hl)"/>
<radialGradient id="g_TNF" cx="0.5" cy="0.68" r="0.62"><stop offset="0" stop-color="#7fe0a0"/><stop offset="0.75" stop-color="#139a45"/><stop offset="1" stop-color="#139a45" stop-opacity="1"/></radialGradient>
<circle cx="213.9" cy="437.7" r="14.2" fill="url(#shd)"/>
<circle cx="214.3" cy="436.5" r="12.5" fill="url(#g_TNF)"/>
<circle cx="214.3" cy="436.5" r="12.0" fill="none" stroke="#000" stroke-opacity="0.22" stroke-width="1.2"/>
<polyline points="209.5,442.0 218.4,433.9 219.8,442.3 215.4,442.3 216.7,434.9 216.9,438.3 209.4,435.8 217.0,435.2 217.4,432.6" fill="none" stroke="#60c020" stroke-width="0.8" opacity="0.55"/>
<ellipse cx="214.3" cy="429.9" rx="8.2" ry="4.3" fill="url(#hl)"/>
<radialGradient id="g_Rhoa" cx="0.5" cy="0.68" r="0.62"><stop offset="0" stop-color="#e0f5d6"/><stop offset="0.75" stop-color="#95cc80"/><stop offset="1" stop-color="#95cc80" stop-opacity="1"/></radialGradient>
<circle cx="303.7" cy="452.4" r="14.2" fill="url(#shd)"/>
<circle cx="304.1" cy="451.2" r="12.5" fill="url(#g_Rhoa)"/>
<circle cx="304.1" cy="451.2" r="12.0" fill="none" stroke="#000" stroke-opacity="0.22" stroke-width="1.2"/>
<polyline points="302.5,447.5 300.2,451.6 307.5,451.6 304.2,449.0 303.7,450.2 307.7,451.0 305.5,448.3 300.6,451.5 304.9,452.0" fill="none" stroke="#a070a0" stroke-width="0.8" opacity="0.55"/>
<ellipse cx="304.1" cy="444.6" rx="8.2" ry="4.3" fill="url(#hl)"/>
<radialGradient id="g_SORBS2" cx="0.5" cy="0.68" r="0.62"><stop offset="0" stop-color="#fbe2cf"/><stop offset="0.75" stop-color="#e0a884"/><stop offset="1" stop-color="#e0a884" stop-opacity="1"/></radialGradient>
<circle cx="378.4" cy="422.4" r="14.2" fill="url(#shd)"/>
<circle cx="378.8" cy="421.2" r="12.5" fill="url(#g_SORBS2)"/>
<circle cx="378.8" cy="421.2" r="12.0" fill="none" stroke="#000" stroke-opacity="0.22" stroke-width="1.2"/>
<polyline points="380.2,420.9 373.6,424.4 379.9,419.9 377.8,418.5 382.7,423.7 375.1,425.9 378.6,420.6 383.9,426.6 373.7,420.3" fill="none" stroke="#c050a0" stroke-width="0.8" opacity="0.55"/>
<ellipse cx="378.8" cy="414.6" rx="8.2" ry="4.3" fill="url(#hl)"/>
<radialGradient id="g_NFKB" cx="0.5" cy="0.68" r="0.62"><stop offset="0" stop-color="#d6f0fb"/><stop offset="0.75" stop-color="#6fb8dc"/><stop offset="1" stop-color="#6fb8dc" stop-opacity="1"/></radialGradient>
<circle cx="137.9" cy="506.8" r="14.2" fill="url(#shd)"/>
<circle cx="138.3" cy="505.6" r="12.5" fill="url(#g_NFKB)"/>
<circle cx="138.3" cy="505.6" r="12.0" fill="none" stroke="#000" stroke-opacity="0.22" stroke-width="1.2"/>
<polyline points="132.5,507.9 136.3,509.1 137.9,501.6 142.9,506.9 142.4,510.8 133.6,506.3 139.9,504.4 137.5,510.3 139.5,504.4" fill="none" stroke="#208060" stroke-width="0.8" opacity="0.55"/>
<ellipse cx="138.3" cy="499.0" rx="8.2" ry="4.3" fill="url(#hl)"/>
<radialGradient id="g_IL1B" cx="0.5" cy="0.68" r="0.62"><stop offset="0" stop-color="#eef6e2"/><stop offset="0.75" stop-color="#b4cc98"/><stop offset="1" stop-color="#b4cc98" stop-opacity="1"/></radialGradient>
<circle cx="234.9" cy="484.3" r="14.2" fill="url(#shd)"/>
<circle cx="235.3" cy="483.1" r="12.5" fill="url(#g_IL1B)"/>
<circle cx="235.3" cy="483.1" r="12.0" fill="none" stroke="#000" stroke-opacity="0.22" stroke-width="1.2"/>
<polyline points="231.7,488.0 229.3,486.0 235.6,483.4 238.5,483.1 235.9,486.4 233.8,487.8 229.6,480.6 232.3,485.2 240.7,482.6" fill="none" stroke="#b070a0" stroke-width="0.8" opacity="0.55"/>
<ellipse cx="235.3" cy="476.5" rx="8.2" ry="4.3" fill="url(#hl)"/>
<radialGradient id="g_IKB" cx="0.5" cy="0.68" r="0.62"><stop offset="0" stop-color="#c9f0d4"/><stop offset="0.75" stop-color="#5fbd7a"/><stop offset="1" stop-color="#5fbd7a" stop-opacity="1"/></radialGradient>
<circle cx="75.3" cy="525.2" r="14.2" fill="url(#shd)"/>
<circle cx="75.7" cy="524.0" r="12.5" fill="url(#g_IKB)"/>
<circle cx="75.7" cy="524.0" r="12.0" fill="none" stroke="#000" stroke-opacity="0.22" stroke-width="1.2"/>
<polyline points="77.6,526.1 80.1,524.9 75.6,523.2 79.9,524.5 76.9,523.8 71.2,529.4 70.0,527.8 77.2,527.9 76.0,524.4" fill="none" stroke="#3090c0" stroke-width="0.8" opacity="0.55"/>
<ellipse cx="75.7" cy="517.4" rx="8.2" ry="4.3" fill="url(#hl)"/>
<radialGradient id="g_IL6" cx="0.5" cy="0.68" r="0.62"><stop offset="0" stop-color="#c0f0de"/><stop offset="0.75" stop-color="#4cbf98"/><stop offset="1" stop-color="#4cbf98" stop-opacity="1"/></radialGradient>
<circle cx="206.8" cy="536.2" r="14.2" fill="url(#shd)"/>
<circle cx="207.2" cy="535.0" r="12.5" fill="url(#g_IL6)"/>
<circle cx="207.2" cy="535.0" r="12.0" fill="none" stroke="#000" stroke-opacity="0.22" stroke-width="1.2"/>
<polyline points="206.5,531.4 210.6,538.9 203.5,533.7 211.3,532.1 209.9,531.9 204.1,535.2 204.7,539.8 209.8,539.6 210.5,532.4" fill="none" stroke="#c050a0" stroke-width="0.8" opacity="0.55"/>
<ellipse cx="207.2" cy="528.4" rx="8.2" ry="4.3" fill="url(#hl)"/>
<radialGradient id="g_PLXNB2" cx="0.5" cy="0.68" r="0.62"><stop offset="0" stop-color="#eeeab8"/><stop offset="0.75" stop-color="#b8b050"/><stop offset="1" stop-color="#b8b050" stop-opacity="1"/></radialGradient>
<circle cx="419.9" cy="506.1" r="14.2" fill="url(#shd)"/>
<circle cx="420.3" cy="504.9" r="12.5" fill="url(#g_PLXNB2)"/>
<circle cx="420.3" cy="504.9" r="12.0" fill="none" stroke="#000" stroke-opacity="0.22" stroke-width="1.2"/>
<polyline points="425.7,508.4 424.8,506.7 425.7,510.2 421.9,503.2 423.3,504.0 417.3,505.0 419.2,508.8 425.3,505.6 425.1,504.0" fill="none" stroke="#c050a0" stroke-width="0.8" opacity="0.55"/>
<ellipse cx="420.3" cy="498.3" rx="8.2" ry="4.3" fill="url(#hl)"/>
<radialGradient id="g_Rac1" cx="0.5" cy="0.68" r="0.62"><stop offset="0" stop-color="#e4dafa"/><stop offset="0.75" stop-color="#9a7fd6"/><stop offset="1" stop-color="#9a7fd6" stop-opacity="1"/></radialGradient>
<circle cx="350.7" cy="538.6" r="14.2" fill="url(#shd)"/>
<circle cx="351.1" cy="537.4" r="12.5" fill="url(#g_Rac1)"/>
<circle cx="351.1" cy="537.4" r="12.0" fill="none" stroke="#000" stroke-opacity="0.22" stroke-width="1.2"/>
<polyline points="345.2,539.5 346.3,538.8 345.1,538.8 347.0,534.1 351.9,537.7 345.4,539.4 345.8,539.5 352.2,538.1 351.9,534.1" fill="none" stroke="#c050a0" stroke-width="0.8" opacity="0.55"/>
<ellipse cx="351.1" cy="530.8" rx="8.2" ry="4.3" fill="url(#hl)"/>
<radialGradient id="g_TGFB" cx="0.5" cy="0.68" r="0.62"><stop offset="0" stop-color="#fbe0dc"/><stop offset="0.75" stop-color="#dc9c94"/><stop offset="1" stop-color="#dc9c94" stop-opacity="1"/></radialGradient>
<circle cx="299.6" cy="559.2" r="14.2" fill="url(#shd)"/>
<circle cx="300.0" cy="558.0" r="12.5" fill="url(#g_TGFB)"/>
<circle cx="300.0" cy="558.0" r="12.0" fill="none" stroke="#000" stroke-opacity="0.22" stroke-width="1.2"/>
<polyline points="296.0,555.9 302.4,562.3 301.4,557.2 294.1,562.4 295.1,555.6 296.9,557.3 304.0,556.9 301.5,560.1 297.9,557.3" fill="none" stroke="#c050a0" stroke-width="0.8" opacity="0.55"/>
<ellipse cx="300.0" cy="551.4" rx="8.2" ry="4.3" fill="url(#hl)"/>
<radialGradient id="g_IL10" cx="0.5" cy="0.68" r="0.62"><stop offset="0" stop-color="#d8f4da"/><stop offset="0.75" stop-color="#7ecb84"/><stop offset="1" stop-color="#7ecb84" stop-opacity="1"/></radialGradient>
<circle cx="168.9" cy="573.0" r="14.2" fill="url(#shd)"/>
<circle cx="169.3" cy="571.8" r="12.5" fill="url(#g_IL10)"/>
<circle cx="169.3" cy="571.8" r="12.0" fill="none" stroke="#000" stroke-opacity="0.22" stroke-width="1.2"/>
<polyline points="174.4,569.8 167.3,570.9 171.8,570.6 165.4,568.7 172.4,576.5 166.1,568.0 171.7,573.6 172.9,575.5 167.7,572.9" fill="none" stroke="#e08020" stroke-width="0.8" opacity="0.55"/>
<ellipse cx="169.3" cy="565.2" rx="8.2" ry="4.3" fill="url(#hl)"/>
<radialGradient id="g_BDNF" cx="0.5" cy="0.68" r="0.62"><stop offset="0" stop-color="#f6f6e0"/><stop offset="0.75" stop-color="#cfd09a"/><stop offset="1" stop-color="#cfd09a" stop-opacity="1"/></radialGradient>
<circle cx="305.3" cy="606.1" r="14.2" fill="url(#shd)"/>
<circle cx="305.7" cy="604.9" r="12.5" fill="url(#g_BDNF)"/>
<circle cx="305.7" cy="604.9" r="12.0" fill="none" stroke="#000" stroke-opacity="0.22" stroke-width="1.2"/>
<polyline points="301.7,608.3 302.7,609.7 310.7,605.8 307.0,606.8 307.2,609.2 300.5,601.1 306.9,610.2 308.8,602.3 304.3,605.5" fill="none" stroke="#30a060" stroke-width="0.8" opacity="0.55"/>
<ellipse cx="305.7" cy="598.3" rx="8.2" ry="4.3" fill="url(#hl)"/>
<radialGradient id="g_iNOS" cx="0.5" cy="0.68" r="0.62"><stop offset="0" stop-color="#fbdde1"/><stop offset="0.75" stop-color="#e0929c"/><stop offset="1" stop-color="#e0929c" stop-opacity="1"/></radialGradient>
<circle cx="107.7" cy="611.3" r="14.2" fill="url(#shd)"/>
<circle cx="108.1" cy="610.1" r="12.5" fill="url(#g_iNOS)"/>
<circle cx="108.1" cy="610.1" r="12.0" fill="none" stroke="#000" stroke-opacity="0.22" stroke-width="1.2"/>
<polyline points="103.4,613.7 105.4,614.3 105.3,614.5 110.8,612.5 113.8,614.6 103.4,615.2 110.1,610.2 110.8,610.6 112.2,608.8" fill="none" stroke="#c050a0" stroke-width="0.8" opacity="0.55"/>
<ellipse cx="108.1" cy="603.5" rx="8.2" ry="4.3" fill="url(#hl)"/>
<radialGradient id="g_MANF" cx="0.5" cy="0.68" r="0.62"><stop offset="0" stop-color="#f4ecd6"/><stop offset="0.75" stop-color="#cdbb8e"/><stop offset="1" stop-color="#cdbb8e" stop-opacity="1"/></radialGradient>
<circle cx="146.5" cy="646.2" r="14.2" fill="url(#shd)"/>
<circle cx="146.9" cy="645.0" r="12.5" fill="url(#g_MANF)"/>
<circle cx="146.9" cy="645.0" r="12.0" fill="none" stroke="#000" stroke-opacity="0.22" stroke-width="1.2"/>
<polyline points="142.7,645.1 150.0,644.4 152.5,645.2 146.5,650.3 143.8,641.0 143.2,650.7 149.2,648.1 150.4,646.8 141.3,644.9" fill="none" stroke="#c050a0" stroke-width="0.8" opacity="0.55"/>
<ellipse cx="146.9" cy="638.4" rx="8.2" ry="4.3" fill="url(#hl)"/>
<radialGradient id="g_IL4" cx="0.5" cy="0.68" r="0.62"><stop offset="0" stop-color="#7ee0da"/><stop offset="0.75" stop-color="#169f98"/><stop offset="1" stop-color="#169f98" stop-opacity="1"/></radialGradient>
<circle cx="245.2" cy="653.9" r="14.2" fill="url(#shd)"/>
<circle cx="245.6" cy="652.7" r="12.5" fill="url(#g_IL4)"/>
<circle cx="245.6" cy="652.7" r="12.0" fill="none" stroke="#000" stroke-opacity="0.22" stroke-width="1.2"/>
<polyline points="245.4,658.4 239.9,657.6 243.0,650.8 246.0,654.6 251.0,651.4 242.4,655.1 249.4,658.2 245.2,657.7 239.8,654.7" fill="none" stroke="#2050c0" stroke-width="0.8" opacity="0.55"/>
<ellipse cx="245.6" cy="646.1" rx="8.2" ry="4.3" fill="url(#hl)"/>
<text x="195.6" y="371.0" font-size="13" text-anchor="start" font-weight="normal" fill="#1a1a1a" font-family='"Liberation Sans", sans-serif' >PPM1F</text>
<text x="56.8" y="424.3" font-size="13" text-anchor="start" font-weight="normal" fill="#1a1a1a" font-family='"Liberation Sans", sans-serif' >Bcl10</text>
<text x="137.5" y="433.9" font-size="13" text-anchor="start" font-weight="normal" fill="#1a1a1a" font-family='"Liberation Sans", sans-serif' >IKK</text>
<text x="223.3" y="429.3" font-size="13" text-anchor="start" font-weight="normal" fill="#1a1a1a" font-family='"Liberation Sans", sans-serif' >TNF</text>
<text x="291.0" y="433.3" font-size="13" text-anchor="start" font-weight="normal" fill="#1a1a1a" font-family='"Liberation Sans", sans-serif' >Rhoa</text>
<text x="354.0" y="405.3" font-size="13" text-anchor="start" font-weight="normal" fill="#1a1a1a" font-family='"Liberation Sans", sans-serif' >SORBS2</text>
<text x="105.4" y="489.9" font-size="13" text-anchor="start" font-weight="normal" fill="#1a1a1a" font-family='"Liberation Sans", sans-serif' >NF-κB</text>
<text x="249.5" y="486.7" font-size="13" text-anchor="start" font-weight="normal" fill="#1a1a1a" font-family='"Liberation Sans", sans-serif' >IL-1β</text>
<text x="41.8" y="528.1" font-size="13" text-anchor="start" font-weight="normal" fill="#1a1a1a" font-family='"Liberation Sans", sans-serif' >IκB</text>
<text x="222.0" y="537.9" font-size="13" text-anchor="start" font-weight="normal" fill="#1a1a1a" font-family='"Liberation Sans", sans-serif' >IL-6</text>
<text x="396.6" y="532.9" font-size="13" text-anchor="start" font-weight="normal" fill="#1a1a1a" font-family='"Liberation Sans", sans-serif' >PLXNB2</text>
<text x="360.3" y="559.1" font-size="13" text-anchor="start" font-weight="normal" fill="#1a1a1a" font-family='"Liberation Sans", sans-serif' >Rac1</text>
<text x="247.5" y="562.9" font-size="13" text-anchor="start" font-weight="normal" fill="#1a1a1a" font-family='"Liberation Sans", sans-serif' >TGF-β</text>
<text x="153.9" y="595.6" font-size="13" text-anchor="start" font-weight="normal" fill="#1a1a1a" font-family='"Liberation Sans", sans-serif' >IL-10</text>
<text x="321.5" y="611.0" font-size="13" text-anchor="start" font-weight="normal" fill="#1a1a1a" font-family='"Liberation Sans", sans-serif' >BDNF</text>
<text x="80.2" y="634.1" font-size="13" text-anchor="start" font-weight="normal" fill="#1a1a1a" font-family='"Liberation Sans", sans-serif' >iNOS</text>
<text x="127.5" y="671.0" font-size="13" text-anchor="start" font-weight="normal" fill="#1a1a1a" font-family='"Liberation Sans", sans-serif' >MANF</text>
<text x="260.5" y="658.6" font-size="13" text-anchor="start" font-weight="normal" fill="#1a1a1a" font-family='"Liberation Sans", sans-serif' >IL-4</text>
<radialGradient id="lg" cx="0.4" cy="0.35" r="0.7"><stop offset="0" stop-color="#ffffff"/><stop offset="1" stop-color="#bdbdbd"/></radialGradient>
<line x1="220.4" y1="679.8" x2="243.8" y2="679.8" stroke="#33c6e6" stroke-width="1.8" />
<circle cx="220.4" cy="679.8" r="5.2" fill="url(#lg)" stroke="#9a9a9a" stroke-width="0.7"/>
<circle cx="243.8" cy="679.8" r="5.2" fill="url(#lg)" stroke="#9a9a9a" stroke-width="0.7"/>
<text x="253.8" y="688.0" font-size="10" text-anchor="start" font-weight="normal" fill="#333" font-family='"Liberation Serif", serif' >from curated databases</text>
<line x1="363.2" y1="679.8" x2="386.3" y2="679.8" stroke="#f03cf0" stroke-width="1.8" />
<circle cx="363.2" cy="679.8" r="5.2" fill="url(#lg)" stroke="#9a9a9a" stroke-width="0.7"/>
<circle cx="386.3" cy="679.8" r="5.2" fill="url(#lg)" stroke="#9a9a9a" stroke-width="0.7"/>
<text x="396.0" y="688.0" font-size="10" text-anchor="start" font-weight="normal" fill="#333" font-family='"Liberation Serif", serif' >experimentally determined</text>
<line x1="181.5" y1="707.9" x2="204.9" y2="707.9" stroke="#22c040" stroke-width="1.8" />
<circle cx="181.5" cy="707.9" r="5.2" fill="url(#lg)" stroke="#9a9a9a" stroke-width="0.7"/>
<circle cx="204.9" cy="707.9" r="5.2" fill="url(#lg)" stroke="#9a9a9a" stroke-width="0.7"/>
<text x="214.3" y="716.0" font-size="10" text-anchor="start" font-weight="normal" fill="#333" font-family='"Liberation Serif", serif' >gene neighborhood</text>
<line x1="324.7" y1="707.9" x2="347.8" y2="707.9" stroke="#f04040" stroke-width="1.8" />
<circle cx="324.7" cy="707.9" r="5.2" fill="url(#lg)" stroke="#9a9a9a" stroke-width="0.7"/>
<circle cx="347.8" cy="707.9" r="5.2" fill="url(#lg)" stroke="#9a9a9a" stroke-width="0.7"/>
<text x="357.0" y="716.0" font-size="10" text-anchor="start" font-weight="normal" fill="#333" font-family='"Liberation Serif", serif' >gene fusions</text>
<line x1="431.6" y1="707.9" x2="454.3" y2="707.9" stroke="#4848f0" stroke-width="1.8" />
<circle cx="431.6" cy="707.9" r="5.2" fill="url(#lg)" stroke="#9a9a9a" stroke-width="0.7"/>
<circle cx="454.3" cy="707.9" r="5.2" fill="url(#lg)" stroke="#9a9a9a" stroke-width="0.7"/>
<text x="464.0" y="716.0" font-size="10" text-anchor="start" font-weight="normal" fill="#333" font-family='"Liberation Serif", serif' >gene co-occurrence</text>
<line x1="203.1" y1="736.6" x2="225.8" y2="736.6" stroke="#b8de3a" stroke-width="1.8" />
<circle cx="203.1" cy="736.6" r="5.2" fill="url(#lg)" stroke="#9a9a9a" stroke-width="0.7"/>
<circle cx="225.8" cy="736.6" r="5.2" fill="url(#lg)" stroke="#9a9a9a" stroke-width="0.7"/>
<text x="235.5" y="744.6" font-size="10" text-anchor="start" font-weight="normal" fill="#333" font-family='"Liberation Serif", serif' >textmining</text>
<line x1="310.3" y1="736.6" x2="332.6" y2="736.6" stroke="#333333" stroke-width="1.8" />
<circle cx="310.3" cy="736.6" r="5.2" fill="url(#lg)" stroke="#9a9a9a" stroke-width="0.7"/>
<circle cx="332.6" cy="736.6" r="5.2" fill="url(#lg)" stroke="#9a9a9a" stroke-width="0.7"/>
<text x="342.7" y="744.6" font-size="10" text-anchor="start" font-weight="normal" fill="#333" font-family='"Liberation Serif", serif' >co-expression</text>
<line x1="417.6" y1="736.6" x2="439.9" y2="736.6" stroke="#8a8af6" stroke-width="1.8" />
<circle cx="417.6" cy="736.6" r="5.2" fill="url(#lg)" stroke="#9a9a9a" stroke-width="0.7"/>
<circle cx="439.9" cy="736.6" r="5.2" fill="url(#lg)" stroke="#9a9a9a" stroke-width="0.7"/>
<text x="449.6" y="744.6" font-size="10" text-anchor="start" font-weight="normal" fill="#333" font-family='"Liberation Serif", serif' >protein homology</text>
<text transform="translate(455.5,34.0) scale(1,1.09)" font-size="20.5" fill="#111" font-family='"Liberation Sans", sans-serif'>C</text>
<text x="551.4" y="97.0" font-size="13.2" text-anchor="end" font-weight="normal" fill="#1a1a1a" font-family='"Liberation Sans", sans-serif' >APP/PS1</text>
<text x="551.9" y="112.3" font-size="13.3" text-anchor="end" font-weight="normal" fill="#1a1a1a" font-family='"Liberation Sans", sans-serif' >VB (10 mg/kg)</text>
<line x1="583.2" y1="90.2" x2="588.0" y2="90.2" stroke="#1a1a1a" stroke-width="1.35" />
<line x1="629.2" y1="89.4" x2="635.8" y2="89.4" stroke="#1a1a1a" stroke-width="1.25" />
<line x1="632.5" y1="86.1" x2="632.5" y2="92.7" stroke="#1a1a1a" stroke-width="1.25" />
<line x1="677.5" y1="88.6" x2="684.1" y2="88.6" stroke="#1a1a1a" stroke-width="1.25" />
<line x1="680.8" y1="85.3" x2="680.8" y2="91.9" stroke="#1a1a1a" stroke-width="1.25" />
<line x1="583.2" y1="106.7" x2="588.0" y2="106.7" stroke="#1a1a1a" stroke-width="1.35" />
<line x1="630.8" y1="108.1" x2="635.6" y2="108.1" stroke="#1a1a1a" stroke-width="1.35" />
<line x1="677.7" y1="107.1" x2="684.3" y2="107.1" stroke="#1a1a1a" stroke-width="1.25" />
<line x1="681.0" y1="103.8" x2="681.0" y2="110.4" stroke="#1a1a1a" stroke-width="1.25" />
<linearGradient id="bg1" x1="0" y1="0" x2="0" y2="1"><stop offset="0" stop-color="#d6d6d6"/><stop offset="1" stop-color="#ececec"/></linearGradient>
<clipPath id="cp1"><rect x="556.5" y="121.2" width="150.0" height="31.299999999999997"/></clipPath>
<g clip-path="url(#cp1)">
<rect x="556.5" y="121.2" width="150.0" height="31.3" fill="url(#bg1)" stroke="none" stroke-width="1" />
<ellipse cx="582" cy="126" rx="20" ry="7" fill="#888" opacity="0.45" filter="url(#blur4)"/>
<ellipse cx="632" cy="126" rx="20" ry="7" fill="#999" opacity="0.4" filter="url(#blur4)"/>
<ellipse cx="680" cy="126" rx="22" ry="7" fill="#888" opacity="0.45" filter="url(#blur4)"/>
<ellipse cx="607" cy="140" rx="5" ry="18" fill="#fff" opacity="0.6" filter="url(#blur4)"/>
<ellipse cx="656" cy="140" rx="5" ry="18" fill="#fff" opacity="0.6" filter="url(#blur4)"/>
<rect x="563.8" y="124.2" width="34.2" height="20.4" rx="10.2" ry="10.2" fill="#000" opacity="0.22" filter="url(#blur3)"/>
<rect x="565.8" y="130.2" width="30.2" height="8.5" rx="6.8" ry="4.2" fill="#000" opacity="1" filter="url(#blur2)"/>
<rect x="587.0" y="129.3" width="14.5" height="12.0" rx="6.0" ry="6.0" fill="#000" opacity="0.20" filter="url(#blur3)"/>
<rect x="589.0" y="132.8" width="10.5" height="5.0" rx="4.0" ry="2.5" fill="#000" opacity="0.9" filter="url(#blur2)"/>
<rect x="613.0" y="128.0" width="22.0" height="13.2" rx="6.6" ry="6.6" fill="#000" opacity="0.22" filter="url(#blur3)"/>
<rect x="615.0" y="131.8" width="18.0" height="5.5" rx="4.4" ry="2.8" fill="#000" opacity="1" filter="url(#blur2)"/>
<rect x="631.0" y="131.5" width="19.0" height="8.6" rx="4.3" ry="4.3" fill="#000" opacity="0.13" filter="url(#blur3)"/>
<rect x="633.0" y="134.0" width="15.0" height="3.6" rx="2.9" ry="1.8" fill="#000" opacity="0.6" filter="url(#blur2)"/>
<rect x="661.5" y="128.9" width="21.5" height="12.0" rx="6.0" ry="6.0" fill="#000" opacity="0.22" filter="url(#blur3)"/>
<rect x="663.5" y="132.4" width="17.5" height="5.0" rx="4.0" ry="2.5" fill="#000" opacity="1" filter="url(#blur2)"/>
<rect x="675.0" y="127.1" width="24.5" height="14.4" rx="7.2" ry="7.2" fill="#000" opacity="0.22" filter="url(#blur3)"/>
<rect x="677.0" y="131.3" width="20.5" height="6.0" rx="4.8" ry="3.0" fill="#000" opacity="1" filter="url(#blur2)"/>
</g>
<rect x="556.5" y="121.2" width="150.0" height="31.3" fill="none" stroke="#222" stroke-width="1.3" />
<linearGradient id="bg2" x1="0" y1="0" x2="0" y2="1"><stop offset="0" stop-color="#c6c6c6"/><stop offset="1" stop-color="#b6b6b6"/></linearGradient>
<clipPath id="cp2"><rect x="556.5" y="161.8" width="150.0" height="30.399999999999977"/></clipPath>
<g clip-path="url(#cp2)">
<rect x="556.5" y="161.8" width="150.0" height="30.4" fill="url(#bg2)" stroke="none" stroke-width="1" />
<ellipse cx="604" cy="177" rx="5" ry="16" fill="#e4e4e4" opacity="0.6" filter="url(#blur4)"/>
<ellipse cx="657" cy="188" rx="5" ry="6" fill="#777" opacity="0.5" filter="url(#blur3)"/>
<ellipse cx="580" cy="166" rx="20" ry="5" fill="#999" opacity="0.3" filter="url(#blur4)"/>
<rect x="559.0" y="174.8" width="37.0" height="10.1" rx="5.0" ry="5.0" fill="#000" opacity="0.20" filter="url(#blur3)"/>
<rect x="561.0" y="177.7" width="33.0" height="4.2" rx="3.4" ry="2.1" fill="#000" opacity="0.9" filter="url(#blur2)"/>
<rect x="609.0" y="171.7" width="41.0" height="13.2" rx="6.6" ry="6.6" fill="#000" opacity="0.22" filter="url(#blur3)"/>
<rect x="611.0" y="175.6" width="37.0" height="5.5" rx="4.4" ry="2.8" fill="#000" opacity="1" filter="url(#blur2)"/>
<rect x="662.0" y="173.2" width="39.0" height="7.2" rx="3.6" ry="3.6" fill="#000" opacity="0.12" filter="url(#blur3)"/>
<rect x="664.0" y="175.3" width="35.0" height="3.0" rx="2.4" ry="1.5" fill="#000" opacity="0.55" filter="url(#blur2)"/>
</g>
<rect x="556.5" y="161.8" width="150.0" height="30.4" fill="none" stroke="#222" stroke-width="1.3" />
<linearGradient id="bg3" x1="0" y1="0" x2="0" y2="1"><stop offset="0" stop-color="#f4f4f4"/><stop offset="1" stop-color="#f6f6f6"/></linearGradient>
<clipPath id="cp3"><rect x="556.5" y="200.7" width="150.0" height="31.30000000000001"/></clipPath>
<g clip-path="url(#cp3)">
<rect x="556.5" y="200.7" width="150.0" height="31.3" fill="url(#bg3)" stroke="none" stroke-width="1" />
<rect x="570.2" y="211.0" width="37.6" height="14.4" rx="7.2" ry="7.2" fill="#000" opacity="0.22" filter="url(#blur3)"/>
<rect x="572.2" y="215.2" width="33.6" height="6.0" rx="4.8" ry="3.0" fill="#000" opacity="1" filter="url(#blur2)"/>
<rect x="613.7" y="210.8" width="37.7" height="13.2" rx="6.6" ry="6.6" fill="#000" opacity="0.22" filter="url(#blur3)"/>
<rect x="615.7" y="214.7" width="33.7" height="5.5" rx="4.4" ry="2.8" fill="#000" opacity="1" filter="url(#blur2)"/>
<rect x="658.9" y="209.4" width="36.8" height="14.4" rx="7.2" ry="7.2" fill="#000" opacity="0.22" filter="url(#blur3)"/>
<rect x="660.9" y="213.6" width="32.8" height="6.0" rx="4.8" ry="3.0" fill="#000" opacity="1" filter="url(#blur2)"/>
</g>
<rect x="556.5" y="200.7" width="150.0" height="31.3" fill="none" stroke="#222" stroke-width="1.3" />
<text x="550.4" y="141.8" font-size="13.6" text-anchor="end" font-weight="normal" fill="#1a1a1a" font-family='"Liberation Sans", sans-serif' >SORBS2</text>
<text x="549.7" y="181.2" font-size="13.6" text-anchor="end" font-weight="normal" fill="#1a1a1a" font-family='"Liberation Sans", sans-serif' >PLXNB2</text>
<text x="549.7" y="221.0" font-size="13.6" text-anchor="end" font-weight="normal" fill="#1a1a1a" font-family='"Liberation Sans", sans-serif' >GAPDH</text>
<line x1="706.5" y1="137.0" x2="720.8" y2="137.0" stroke="#222" stroke-width="1" />
<text x="722.8" y="141.8" font-size="13.4" text-anchor="start" font-weight="normal" fill="#1a1a1a" font-family='"Liberation Sans", sans-serif' >70 kDa</text>
<line x1="706.5" y1="176.6" x2="720.8" y2="176.6" stroke="#222" stroke-width="1" />
<text x="722.8" y="181.4" font-size="13.4" text-anchor="start" font-weight="normal" fill="#1a1a1a" font-family='"Liberation Sans", sans-serif' >80 kDa</text>
<line x1="706.5" y1="216.6" x2="720.8" y2="216.6" stroke="#222" stroke-width="1" />
<text x="722.8" y="221.4" font-size="13.4" text-anchor="start" font-weight="normal" fill="#1a1a1a" font-family='"Liberation Sans", sans-serif' >37 kDa</text>
<text transform="translate(456.0,262.6) scale(1,1.09)" font-size="20.5" fill="#111" font-family='"Liberation Sans", sans-serif'>D</text>
<text x="651.3" y="281.3" font-size="13.3" text-anchor="middle" font-weight="normal" fill="#1a1a1a" font-family='"Liberation Sans", sans-serif' >LPS (1 μg/mL)</text>
<line x1="601.5" y1="286.7" x2="695.6" y2="286.7" stroke="#222" stroke-width="1.4" stroke-dasharray="4 2.6"/>
<text x="668.7" y="299.6" font-size="13.3" text-anchor="middle" font-weight="normal" fill="#1a1a1a" font-family='"Liberation Sans", sans-serif' >VB (μM)</text>
<line x1="636.0" y1="305.8" x2="695.6" y2="305.8" stroke="#222" stroke-width="1.4" stroke-dasharray="4 2.6"/>
<text x="556.7" y="319.6" font-size="13.3" text-anchor="start" font-weight="normal" fill="#1a1a1a" font-family='"Liberation Sans", sans-serif' >CTRL</text>
<text x="644.3" y="319.6" font-size="13.3" text-anchor="middle" font-weight="normal" fill="#1a1a1a" font-family='"Liberation Sans", sans-serif' >50</text>
<text x="685.6" y="319.6" font-size="13.3" text-anchor="middle" font-weight="normal" fill="#1a1a1a" font-family='"Liberation Sans", sans-serif' >100</text>
<linearGradient id="bg4" x1="0" y1="0" x2="0" y2="1"><stop offset="0" stop-color="#e4e4e4"/><stop offset="1" stop-color="#d2d2d2"/></linearGradient>
<clipPath id="cp4"><rect x="557.2" y="323.2" width="150.29999999999995" height="30.900000000000034"/></clipPath>
<g clip-path="url(#cp4)">
<rect x="557.2" y="323.2" width="150.3" height="30.9" fill="url(#bg4)" stroke="none" stroke-width="1" />
<ellipse cx="640" cy="355" rx="70" ry="5" fill="#999" opacity="0.5" filter="url(#blur4)"/>
<rect x="562.0" y="341.1" width="16.0" height="6.2" rx="3.1" ry="3.1" fill="#000" opacity="0.18" filter="url(#blur3)"/>
<rect x="564.0" y="342.9" width="12.0" height="2.6" rx="2.1" ry="1.3" fill="#000" opacity="0.8" filter="url(#blur2)"/>
<rect x="572.0" y="337.7" width="18.4" height="12.0" rx="6.0" ry="6.0" fill="#000" opacity="0.22" filter="url(#blur3)"/>
<rect x="574.0" y="341.2" width="14.4" height="5.0" rx="4.0" ry="2.5" fill="#000" opacity="1" filter="url(#blur2)"/>
<rect x="599.0" y="338.6" width="27.6" height="7.2" rx="3.6" ry="3.6" fill="#000" opacity="0.20" filter="url(#blur3)"/>
<rect x="601.0" y="340.7" width="23.6" height="3.0" rx="2.4" ry="1.5" fill="#000" opacity="0.9" filter="url(#blur2)"/>
<rect x="636.0" y="337.0" width="28.3" height="7.9" rx="4.0" ry="4.0" fill="#000" opacity="0.21" filter="url(#blur3)"/>
<rect x="638.0" y="339.4" width="24.3" height="3.3" rx="2.6" ry="1.6" fill="#000" opacity="0.95" filter="url(#blur2)"/>
<rect x="673.8" y="335.0" width="15.2" height="8.6" rx="4.3" ry="4.3" fill="#000" opacity="0.22" filter="url(#blur3)"/>
<rect x="675.8" y="337.5" width="11.2" height="3.6" rx="2.9" ry="1.8" fill="#000" opacity="1" filter="url(#blur2)"/>
<rect x="684.0" y="333.2" width="17.3" height="9.1" rx="4.6" ry="4.6" fill="#000" opacity="0.22" filter="url(#blur3)"/>
<rect x="686.0" y="335.9" width="13.3" height="3.8" rx="3.0" ry="1.9" fill="#000" opacity="1" filter="url(#blur2)"/>
</g>
<rect x="557.2" y="323.2" width="150.3" height="30.9" fill="none" stroke="#222" stroke-width="1.3" />
<linearGradient id="bg5" x1="0" y1="0" x2="0" y2="1"><stop offset="0" stop-color="#f0f0f0"/><stop offset="1" stop-color="#ececec"/></linearGradient>
<clipPath id="cp5"><rect x="557.2" y="362.6" width="150.29999999999995" height="30.899999999999977"/></clipPath>
<g clip-path="url(#cp5)">
<rect x="557.2" y="362.6" width="150.3" height="30.9" fill="url(#bg5)" stroke="none" stroke-width="1" />
<ellipse cx="592" cy="384" rx="4.5" ry="9" fill="#444" opacity="0.65" filter="url(#blur3)"/>
<ellipse cx="592" cy="392" rx="5" ry="3.5" fill="#000" opacity="0.9" filter="url(#blur2)"/>
<ellipse cx="629" cy="384" rx="4" ry="9" fill="#888" opacity="0.5" filter="url(#blur3)"/>
<ellipse cx="666" cy="386" rx="4" ry="8" fill="#888" opacity="0.55" filter="url(#blur3)"/>
<ellipse cx="630" cy="393" rx="70" ry="3" fill="#bbb" opacity="0.45" filter="url(#blur3)"/>
<rect x="596.0" y="378.3" width="28.0" height="9.1" rx="4.6" ry="4.6" fill="#000" opacity="0.22" filter="url(#blur3)"/>
<rect x="598.0" y="381.0" width="24.0" height="3.8" rx="3.0" ry="1.9" fill="#000" opacity="1" filter="url(#blur2)"/>
<rect x="633.4" y="380.8" width="27.0" height="7.7" rx="3.8" ry="3.8" fill="#000" opacity="0.22" filter="url(#blur3)"/>
<rect x="635.4" y="383.0" width="23.0" height="3.2" rx="2.6" ry="1.6" fill="#000" opacity="1" filter="url(#blur2)"/>
<rect x="669.0" y="383.1" width="30.0" height="4.8" rx="2.4" ry="2.4" fill="#000" opacity="0.03" filter="url(#blur3)"/>
<rect x="671.0" y="384.5" width="26.0" height="2.0" rx="1.6" ry="1.0" fill="#000" opacity="0.15" filter="url(#blur2)"/>
</g>
<rect x="557.2" y="362.6" width="150.3" height="30.9" fill="none" stroke="#222" stroke-width="1.3" />
<linearGradient id="bg6" x1="0" y1="0" x2="0" y2="1"><stop offset="0" stop-color="#f5f5f5"/><stop offset="1" stop-color="#f4f4f4"/></linearGradient>
<clipPath id="cp6"><rect x="557.2" y="402.9" width="150.29999999999995" height="30.400000000000034"/></clipPath>
<g clip-path="url(#cp6)">
<rect x="557.2" y="402.9" width="150.3" height="30.4" fill="url(#bg6)" stroke="none" stroke-width="1" />
<rect x="562.0" y="416.4" width="29.2" height="15.6" rx="7.8" ry="7.8" fill="#000" opacity="0.22" filter="url(#blur3)"/>
<rect x="564.0" y="420.9" width="25.2" height="6.5" rx="5.2" ry="3.2" fill="#000" opacity="1" filter="url(#blur2)"/>
<rect x="596.3" y="416.4" width="31.9" height="15.6" rx="7.8" ry="7.8" fill="#000" opacity="0.22" filter="url(#blur3)"/>
<rect x="598.3" y="420.9" width="27.9" height="6.5" rx="5.2" ry="3.2" fill="#000" opacity="1" filter="url(#blur2)"/>
<rect x="634.4" y="416.4" width="30.8" height="15.6" rx="7.8" ry="7.8" fill="#000" opacity="0.22" filter="url(#blur3)"/>
<rect x="636.4" y="420.9" width="26.8" height="6.5" rx="5.2" ry="3.2" fill="#000" opacity="1" filter="url(#blur2)"/>
<rect x="671.4" y="417.6" width="30.7" height="14.4" rx="7.2" ry="7.2" fill="#000" opacity="0.22" filter="url(#blur3)"/>
<rect x="673.4" y="421.8" width="26.7" height="6.0" rx="4.8" ry="3.0" fill="#000" opacity="1" filter="url(#blur2)"/>
</g>
<rect x="557.2" y="402.9" width="150.3" height="30.4" fill="none" stroke="#222" stroke-width="1.3" />
<text x="551.4" y="344.0" font-size="13.6" text-anchor="end" font-weight="normal" fill="#1a1a1a" font-family='"Liberation Sans", sans-serif' >SORBS2</text>
<text x="551.0" y="383.3" font-size="13.6" text-anchor="end" font-weight="normal" fill="#1a1a1a" font-family='"Liberation Sans", sans-serif' >PLXNB2</text>
<text x="551.0" y="423.0" font-size="13.6" text-anchor="end" font-weight="normal" fill="#1a1a1a" font-family='"Liberation Sans", sans-serif' >GAPDH</text>
<line x1="707.5" y1="339.4" x2="721.8" y2="339.4" stroke="#222" stroke-width="1" />
<text x="723.8" y="344.2" font-size="13.4" text-anchor="start" font-weight="normal" fill="#1a1a1a" font-family='"Liberation Sans", sans-serif' >70 kDa</text>
<line x1="707.5" y1="378.6" x2="721.8" y2="378.6" stroke="#222" stroke-width="1" />
<text x="723.8" y="383.4" font-size="13.4" text-anchor="start" font-weight="normal" fill="#1a1a1a" font-family='"Liberation Sans", sans-serif' >80 kDa</text>
<line x1="707.5" y1="418.4" x2="721.8" y2="418.4" stroke="#222" stroke-width="1" />
<text x="723.8" y="423.2" font-size="13.4" text-anchor="start" font-weight="normal" fill="#1a1a1a" font-family='"Liberation Sans", sans-serif' >37 kDa</text>
<text transform="translate(456.0,479.2) scale(1,1.09)" font-size="20.5" fill="#111" font-family='"Liberation Sans", sans-serif'>E</text>
<text x="650.2" y="500.0" font-size="13.3" text-anchor="middle" font-weight="normal" fill="#1a1a1a" font-family='"Liberation Sans", sans-serif' >Aβ (5 μM)</text>
<line x1="601.5" y1="505.5" x2="695.6" y2="505.5" stroke="#222" stroke-width="1.4" stroke-dasharray="4 2.6"/>
<text x="668.7" y="519.0" font-size="13.3" text-anchor="middle" font-weight="normal" fill="#1a1a1a" font-family='"Liberation Sans", sans-serif' >VB (μM)</text>
<line x1="636.0" y1="525.0" x2="695.6" y2="525.0" stroke="#222" stroke-width="1.4" stroke-dasharray="4 2.6"/>
<text x="556.7" y="538.4" font-size="13.3" text-anchor="start" font-weight="normal" fill="#1a1a1a" font-family='"Liberation Sans", sans-serif' >CTRL</text>
<text x="651.8" y="539.6" font-size="13.3" text-anchor="middle" font-weight="normal" fill="#1a1a1a" font-family='"Liberation Sans", sans-serif' >25</text>
<text x="689.0" y="539.6" font-size="13.3" text-anchor="middle" font-weight="normal" fill="#1a1a1a" font-family='"Liberation Sans", sans-serif' >50</text>
<linearGradient id="bg7" x1="0" y1="0" x2="0" y2="1"><stop offset="0" stop-color="#ececec"/><stop offset="1" stop-color="#f0f0f0"/></linearGradient>
<clipPath id="cp7"><rect x="557.4" y="542.0" width="150.60000000000002" height="31.600000000000023"/></clipPath>
<g clip-path="url(#cp7)">
<rect x="557.4" y="542.0" width="150.6" height="31.6" fill="url(#bg7)" stroke="none" stroke-width="1" />
<ellipse cx="575" cy="543" rx="10" ry="2" fill="#333" opacity="0.6" filter="url(#blur2)"/>
<ellipse cx="613" cy="543" rx="10" ry="2" fill="#555" opacity="0.5" filter="url(#blur2)"/>
<ellipse cx="652" cy="544" rx="12" ry="2.5" fill="#333" opacity="0.7" filter="url(#blur2)"/>
<ellipse cx="691" cy="544" rx="12" ry="2.5" fill="#333" opacity="0.7" filter="url(#blur2)"/>
<rect x="561.3" y="550.8" width="25.0" height="10.8" rx="5.4" ry="5.4" fill="#000" opacity="0.21" filter="url(#blur3)"/>
<rect x="563.3" y="554.0" width="21.0" height="4.5" rx="3.6" ry="2.2" fill="#000" opacity="0.95" filter="url(#blur2)"/>
<rect x="567.0" y="551.3" width="14.0" height="14.4" rx="7.2" ry="7.2" fill="#000" opacity="0.22" filter="url(#blur3)"/>
<rect x="569.0" y="555.5" width="10.0" height="6.0" rx="4.8" ry="3.0" fill="#000" opacity="1" filter="url(#blur2)"/>
<rect x="600.0" y="551.8" width="26.6" height="9.6" rx="4.8" ry="4.8" fill="#000" opacity="0.22" filter="url(#blur3)"/>
<rect x="602.0" y="554.6" width="22.6" height="4.0" rx="3.2" ry="2.0" fill="#000" opacity="1" filter="url(#blur2)"/>
<rect x="638.5" y="547.2" width="28.3" height="21.6" rx="10.8" ry="10.8" fill="#000" opacity="0.22" filter="url(#blur3)"/>
<rect x="640.5" y="553.5" width="24.3" height="9.0" rx="7.2" ry="4.5" fill="#000" opacity="1" filter="url(#blur2)"/>
<rect x="678.0" y="549.1" width="27.4" height="16.8" rx="8.4" ry="8.4" fill="#000" opacity="0.22" filter="url(#blur3)"/>
<rect x="680.0" y="554.0" width="23.4" height="7.0" rx="5.6" ry="3.5" fill="#000" opacity="1" filter="url(#blur2)"/>
</g>
<rect x="557.4" y="542.0" width="150.6" height="31.6" fill="none" stroke="#222" stroke-width="1.3" />
<linearGradient id="bg8" x1="0" y1="0" x2="0" y2="1"><stop offset="0" stop-color="#e6e6e6"/><stop offset="1" stop-color="#eeeeee"/></linearGradient>
<clipPath id="cp8"><rect x="557.4" y="582.6" width="150.60000000000002" height="30.899999999999977"/></clipPath>
<g clip-path="url(#cp8)">
<rect x="557.4" y="582.6" width="150.6" height="30.9" fill="url(#bg8)" stroke="none" stroke-width="1" />
<ellipse cx="575" cy="605" rx="14" ry="4" fill="#bbb" opacity="0.5" filter="url(#blur3)"/>
<rect x="560.5" y="592.8" width="29.1" height="10.8" rx="5.4" ry="5.4" fill="#000" opacity="0.22" filter="url(#blur3)"/>
<rect x="562.5" y="596.0" width="25.1" height="4.5" rx="3.6" ry="2.2" fill="#000" opacity="1" filter="url(#blur2)"/>
<rect x="597.5" y="590.7" width="30.7" height="14.4" rx="7.2" ry="7.2" fill="#000" opacity="0.22" filter="url(#blur3)"/>
<rect x="599.5" y="594.9" width="26.7" height="6.0" rx="4.8" ry="3.0" fill="#000" opacity="1" filter="url(#blur2)"/>
<rect x="636.0" y="591.2" width="30.8" height="12.0" rx="6.0" ry="6.0" fill="#000" opacity="0.22" filter="url(#blur3)"/>
<rect x="638.0" y="594.7" width="26.8" height="5.0" rx="4.0" ry="2.5" fill="#000" opacity="1" filter="url(#blur2)"/>
<rect x="675.5" y="590.7" width="29.1" height="10.8" rx="5.4" ry="5.4" fill="#000" opacity="0.22" filter="url(#blur3)"/>
<rect x="677.5" y="593.9" width="25.1" height="4.5" rx="3.6" ry="2.2" fill="#000" opacity="1" filter="url(#blur2)"/>
</g>
<rect x="557.4" y="582.6" width="150.6" height="30.9" fill="none" stroke="#222" stroke-width="1.3" />
<linearGradient id="bg9" x1="0" y1="0" x2="0" y2="1"><stop offset="0" stop-color="#f5f5f5"/><stop offset="1" stop-color="#f4f4f4"/></linearGradient>
<clipPath id="cp9"><rect x="557.4" y="622.5" width="150.60000000000002" height="30.799999999999955"/></clipPath>
<g clip-path="url(#cp9)">
<rect x="557.4" y="622.5" width="150.6" height="30.8" fill="url(#bg9)" stroke="none" stroke-width="1" />
<rect x="565.4" y="629.4" width="27.5" height="15.6" rx="7.8" ry="7.8" fill="#000" opacity="0.22" filter="url(#blur3)"/>
<rect x="567.4" y="634.0" width="23.5" height="6.5" rx="5.2" ry="3.2" fill="#000" opacity="1" filter="url(#blur2)"/>
<rect x="601.2" y="630.6" width="28.3" height="13.2" rx="6.6" ry="6.6" fill="#000" opacity="0.22" filter="url(#blur3)"/>
<rect x="603.2" y="634.5" width="24.3" height="5.5" rx="4.4" ry="2.8" fill="#000" opacity="1" filter="url(#blur2)"/>
<rect x="637.7" y="630.0" width="29.1" height="14.4" rx="7.2" ry="7.2" fill="#000" opacity="0.22" filter="url(#blur3)"/>
<rect x="639.7" y="634.2" width="25.1" height="6.0" rx="4.8" ry="3.0" fill="#000" opacity="1" filter="url(#blur2)"/>
<rect x="676.3" y="629.4" width="25.8" height="15.6" rx="7.8" ry="7.8" fill="#000" opacity="0.22" filter="url(#blur3)"/>
<rect x="678.3" y="634.0" width="21.8" height="6.5" rx="5.2" ry="3.2" fill="#000" opacity="1" filter="url(#blur2)"/>
</g>
<rect x="557.4" y="622.5" width="150.6" height="30.8" fill="none" stroke="#222" stroke-width="1.3" />
<text x="551.4" y="563.4" font-size="13.6" text-anchor="end" font-weight="normal" fill="#1a1a1a" font-family='"Liberation Sans", sans-serif' >SORBS2</text>
<text x="551.0" y="602.6" font-size="13.6" text-anchor="end" font-weight="normal" fill="#1a1a1a" font-family='"Liberation Sans", sans-serif' >PLXNB2</text>
<text x="551.0" y="642.8" font-size="13.6" text-anchor="end" font-weight="normal" fill="#1a1a1a" font-family='"Liberation Sans", sans-serif' >GAPDH</text>
<line x1="708.0" y1="558.0" x2="722.3" y2="558.0" stroke="#222" stroke-width="1" />
<text x="724.3" y="562.8" font-size="13.4" text-anchor="start" font-weight="normal" fill="#1a1a1a" font-family='"Liberation Sans", sans-serif' >70 kDa</text>
<line x1="708.0" y1="597.6" x2="722.3" y2="597.6" stroke="#222" stroke-width="1" />
<text x="724.3" y="602.4" font-size="13.4" text-anchor="start" font-weight="normal" fill="#1a1a1a" font-family='"Liberation Sans", sans-serif' >80 kDa</text>
<line x1="708.0" y1="637.6" x2="722.3" y2="637.6" stroke="#222" stroke-width="1" />
<text x="724.3" y="642.4" font-size="13.4" text-anchor="start" font-weight="normal" fill="#1a1a1a" font-family='"Liberation Sans", sans-serif' >37 kDa</text>
<line x1="799.8" y1="89.7" x2="799.8" y2="208.6" stroke="#3a3a3a" stroke-width="1" />
<line x1="799.3" y1="208.1" x2="918.5" y2="208.1" stroke="#3a3a3a" stroke-width="1.1" />
<line x1="799.8" y1="208.1" x2="802.0" y2="208.1" stroke="#3a3a3a" stroke-width="1" />
<text x="797.6" y="211.0" font-size="8" text-anchor="end" font-weight="bold" fill="#333" font-family='"Liberation Sans", sans-serif' >0.0</text>
<line x1="799.8" y1="168.6" x2="802.0" y2="168.6" stroke="#3a3a3a" stroke-width="1" />
<text x="797.6" y="171.5" font-size="8" text-anchor="end" font-weight="bold" fill="#333" font-family='"Liberation Sans", sans-serif' >0.5</text>
<line x1="799.8" y1="129.2" x2="802.0" y2="129.2" stroke="#3a3a3a" stroke-width="1" />
<text x="797.6" y="132.1" font-size="8" text-anchor="end" font-weight="bold" fill="#333" font-family='"Liberation Sans", sans-serif' >1.0</text>
<line x1="799.8" y1="89.7" x2="802.0" y2="89.7" stroke="#3a3a3a" stroke-width="1" />
<text x="797.6" y="92.6" font-size="8" text-anchor="end" font-weight="bold" fill="#333" font-family='"Liberation Sans", sans-serif' >1.5</text>
<line x1="823.2" y1="208.1" x2="823.2" y2="206.3" stroke="#3a3a3a" stroke-width="1" />
<path d="M812.0,208.1 L812.0,129.2 L834.4,129.2 L834.4,208.1" fill="none" stroke="#ff3333" stroke-width="1.6"/>
<line x1="823.2" y1="136.3" x2="823.2" y2="122.1" stroke="#ff3333" stroke-width="1.1" />
<line x1="821.4" y1="122.1" x2="825.0" y2="122.1" stroke="#ff3333" stroke-width="1.1" />
<line x1="821.4" y1="136.3" x2="825.0" y2="136.3" stroke="#ff3333" stroke-width="1.1" />
<circle cx="823.2" cy="115.4" r="2.6" fill="none" stroke="#ff3333" stroke-width="1.1"/>
<circle cx="823.2" cy="133.2" r="2.6" fill="none" stroke="#ff3333" stroke-width="1.1"/>
<circle cx="823.2" cy="139.7" r="2.6" fill="none" stroke="#ff3333" stroke-width="1.1"/>
<line x1="858.6" y1="208.1" x2="858.6" y2="206.3" stroke="#3a3a3a" stroke-width="1" />
<path d="M847.3,208.1 L847.3,166.3 L870.0,166.3 L870.0,208.1" fill="none" stroke="#2a2aff" stroke-width="1.6"/>
<line x1="858.6" y1="169.4" x2="858.6" y2="163.1" stroke="#2a2aff" stroke-width="1.1" />
<line x1="856.9" y1="163.1" x2="860.4" y2="163.1" stroke="#2a2aff" stroke-width="1.1" />
<line x1="856.9" y1="169.4" x2="860.4" y2="169.4" stroke="#2a2aff" stroke-width="1.1" />
<rect x="850.8" y="157.9" width="5.2" height="5.2" fill="none" stroke="#2a2aff" stroke-width="1.1"/>
<rect x="855.7" y="168.6" width="5.2" height="5.2" fill="none" stroke="#2a2aff" stroke-width="1.1"/>
<rect x="861.3" y="162.4" width="5.2" height="5.2" fill="none" stroke="#2a2aff" stroke-width="1.1"/>
<line x1="894.1" y1="208.1" x2="894.1" y2="206.3" stroke="#3a3a3a" stroke-width="1" />
<path d="M882.7,208.1 L882.7,143.4 L905.5,143.4 L905.5,208.1" fill="none" stroke="#1f9d3a" stroke-width="1.6"/>
<line x1="894.1" y1="145.0" x2="894.1" y2="141.8" stroke="#1f9d3a" stroke-width="1.1" />
<line x1="892.3" y1="141.8" x2="895.9" y2="141.8" stroke="#1f9d3a" stroke-width="1.1" />
<line x1="892.3" y1="145.0" x2="895.9" y2="145.0" stroke="#1f9d3a" stroke-width="1.1" />
<polygon points="888.7,138.0 891.3,143.0 886.1,143.0" fill="none" stroke="#1f9d3a" stroke-width="1.1"/>
<polygon points="894.1,139.6 896.7,144.5 891.5,144.5" fill="none" stroke="#1f9d3a" stroke-width="1.1"/>
<polygon points="899.7,138.8 902.3,143.7 897.1,143.7" fill="none" stroke="#1f9d3a" stroke-width="1.1"/>
<polygon points="888.7,144.3 891.3,149.3 886.1,149.3" fill="none" stroke="#1f9d3a" stroke-width="1.1"/>
<text transform="translate(775.5,147.4) rotate(-90)" font-size="8.2" font-weight="bold" text-anchor="middle" fill="#222" font-family='"Liberation Sans", sans-serif' dy="3">SORBS2/GAPDH</text>
<path d="M823.7,110.0 L823.7,105.3 L856.5,105.3 L856.5,110.0" fill="none" stroke="#3a3a3a" stroke-width="1"/>
<text x="840.1" y="103.1" font-size="8.3" text-anchor="middle" font-weight="bold" fill="#333" font-family='"Liberation Sans", sans-serif' font-style="italic">##</text>
<path d="M858.3,110.0 L858.3,105.3 L891.8,105.3 L891.8,110.0" fill="none" stroke="#3a3a3a" stroke-width="1"/>
<polygon points="875.05,98.60 875.82,100.44 877.81,100.60 876.29,101.90 876.75,103.85 875.05,102.81 873.35,103.85 873.81,101.90 872.29,100.60 874.28,100.44" fill="#222"/>
<text transform="translate(826.8,214.5) rotate(-45)" font-size="8.6" font-weight="bold" text-anchor="end" fill="#222" font-family='"Liberation Sans", sans-serif'>WT</text>
<text transform="translate(862.3,214.5) rotate(-45)" font-size="8.6" font-weight="bold" text-anchor="end" fill="#222" font-family='"Liberation Sans", sans-serif'>APP/PS1</text>
<text transform="translate(897.8,214.5) rotate(-45)" font-size="8.6" font-weight="bold" text-anchor="end" fill="#222" font-family='"Liberation Sans", sans-serif'>APP/PS1 + VB</text>
<line x1="941.3" y1="86.3" x2="941.3" y2="208.5" stroke="#3a3a3a" stroke-width="1" />
<line x1="940.8" y1="208.0" x2="1062.6" y2="208.0" stroke="#3a3a3a" stroke-width="1.1" />
<line x1="941.3" y1="208.0" x2="943.5" y2="208.0" stroke="#3a3a3a" stroke-width="1" />
<text x="939.1" y="210.9" font-size="8" text-anchor="end" font-weight="bold" fill="#333" font-family='"Liberation Sans", sans-serif' >0.0</text>
<line x1="941.3" y1="177.6" x2="943.5" y2="177.6" stroke="#3a3a3a" stroke-width="1" />
<text x="939.1" y="180.5" font-size="8" text-anchor="end" font-weight="bold" fill="#333" font-family='"Liberation Sans", sans-serif' >0.6</text>
<line x1="941.3" y1="147.2" x2="943.5" y2="147.2" stroke="#3a3a3a" stroke-width="1" />
<text x="939.1" y="150.1" font-size="8" text-anchor="end" font-weight="bold" fill="#333" font-family='"Liberation Sans", sans-serif' >1.2</text>
<line x1="941.3" y1="116.7" x2="943.5" y2="116.7" stroke="#3a3a3a" stroke-width="1" />
<text x="939.1" y="119.6" font-size="8" text-anchor="end" font-weight="bold" fill="#333" font-family='"Liberation Sans", sans-serif' >1.8</text>
<line x1="941.3" y1="86.3" x2="943.5" y2="86.3" stroke="#3a3a3a" stroke-width="1" />
<text x="939.1" y="89.2" font-size="8" text-anchor="end" font-weight="bold" fill="#333" font-family='"Liberation Sans", sans-serif' >2.4</text>
<line x1="965.0" y1="208.0" x2="965.0" y2="206.2" stroke="#3a3a3a" stroke-width="1" />
<path d="M953.1,208.0 L953.1,157.3 L976.8,157.3 L976.8,208.0" fill="none" stroke="#ff3333" stroke-width="1.6"/>
<line x1="965.0" y1="157.8" x2="965.0" y2="156.8" stroke="#ff3333" stroke-width="1.1" />
<line x1="963.2" y1="156.8" x2="966.8" y2="156.8" stroke="#ff3333" stroke-width="1.1" />
<line x1="963.2" y1="157.8" x2="966.8" y2="157.8" stroke="#ff3333" stroke-width="1.1" />
<circle cx="955.8" cy="157.6" r="2.6" fill="none" stroke="#ff3333" stroke-width="1.1"/>
<circle cx="965.2" cy="156.8" r="2.6" fill="none" stroke="#ff3333" stroke-width="1.1"/>
<circle cx="974.8" cy="156.8" r="2.6" fill="none" stroke="#ff3333" stroke-width="1.1"/>
<line x1="1001.6" y1="208.0" x2="1001.6" y2="206.2" stroke="#3a3a3a" stroke-width="1" />
<path d="M990.0,208.0 L990.0,120.8 L1013.2,120.8 L1013.2,208.0" fill="none" stroke="#2a2aff" stroke-width="1.6"/>
<line x1="1001.6" y1="129.9" x2="1001.6" y2="111.3" stroke="#2a2aff" stroke-width="1.1" />
<line x1="999.8" y1="111.3" x2="1003.4" y2="111.3" stroke="#2a2aff" stroke-width="1.1" />
<line x1="999.8" y1="129.9" x2="1003.4" y2="129.9" stroke="#2a2aff" stroke-width="1.1" />
<rect x="993.8" y="106.9" width="5.2" height="5.2" fill="none" stroke="#2a2aff" stroke-width="1.1"/>
<rect x="1004.1" y="109.4" width="5.2" height="5.2" fill="none" stroke="#2a2aff" stroke-width="1.1"/>
<rect x="999.0" y="136.9" width="5.2" height="5.2" fill="none" stroke="#2a2aff" stroke-width="1.1"/>
<line x1="1037.8" y1="208.0" x2="1037.8" y2="206.2" stroke="#3a3a3a" stroke-width="1" />
<path d="M1026.1,208.0 L1026.1,174.5 L1049.6,174.5 L1049.6,208.0" fill="none" stroke="#1f9d3a" stroke-width="1.6"/>
<line x1="1037.8" y1="181.7" x2="1037.8" y2="166.0" stroke="#1f9d3a" stroke-width="1.1" />
<line x1="1036.0" y1="166.0" x2="1039.6" y2="166.0" stroke="#1f9d3a" stroke-width="1.1" />
<line x1="1036.0" y1="181.7" x2="1039.6" y2="181.7" stroke="#1f9d3a" stroke-width="1.1" />
<polygon points="1038.0,157.0 1040.6,161.9 1035.4,161.9" fill="none" stroke="#1f9d3a" stroke-width="1.1"/>
<polygon points="1038.0,172.0 1040.6,176.9 1035.4,176.9" fill="none" stroke="#1f9d3a" stroke-width="1.1"/>
<polygon points="1038.0,183.8 1040.6,188.8 1035.4,188.8" fill="none" stroke="#1f9d3a" stroke-width="1.1"/>
<text transform="translate(915.5,145.7) rotate(-90)" font-size="8.2" font-weight="bold" text-anchor="middle" fill="#222" font-family='"Liberation Sans", sans-serif' dy="3">PLXNB2/GAPDH</text>
<path d="M967.0,102.4 L967.0,98.4 L1000.5,98.4 L1000.5,102.4" fill="none" stroke="#3a3a3a" stroke-width="1"/>
<text x="983.8" y="96.2" font-size="8.3" text-anchor="middle" font-weight="bold" fill="#333" font-family='"Liberation Sans", sans-serif' font-style="italic">#</text>
<path d="M1002.2,102.4 L1002.2,98.4 L1037.3,98.4 L1037.3,102.4" fill="none" stroke="#3a3a3a" stroke-width="1"/>
<polygon points="1016.55,91.70 1017.32,93.54 1019.31,93.70 1017.79,95.00 1018.25,96.95 1016.55,95.91 1014.85,96.95 1015.31,95.00 1013.79,93.70 1015.78,93.54" fill="#222"/>
<polygon points="1022.95,91.70 1023.72,93.54 1025.71,93.70 1024.19,95.00 1024.65,96.95 1022.95,95.91 1021.25,96.95 1021.71,95.00 1020.19,93.70 1022.18,93.54" fill="#222"/>
<text transform="translate(968.3,214.5) rotate(-45)" font-size="8.6" font-weight="bold" text-anchor="end" fill="#222" font-family='"Liberation Sans", sans-serif'>WT</text>
<text transform="translate(1004.8,214.5) rotate(-45)" font-size="8.6" font-weight="bold" text-anchor="end" fill="#222" font-family='"Liberation Sans", sans-serif'>APP/PS1</text>
<text transform="translate(1041.3,214.5) rotate(-45)" font-size="8.6" font-weight="bold" text-anchor="end" fill="#222" font-family='"Liberation Sans", sans-serif'>APP/PS1 + VB</text>
<line x1="801.3" y1="307.3" x2="801.3" y2="422.9" stroke="#3a3a3a" stroke-width="1" />
<line x1="800.8" y1="422.4" x2="915.8" y2="422.4" stroke="#3a3a3a" stroke-width="1.1" />
<line x1="801.3" y1="422.4" x2="803.5" y2="422.4" stroke="#3a3a3a" stroke-width="1" />
<text x="799.1" y="425.3" font-size="8" text-anchor="end" font-weight="bold" fill="#333" font-family='"Liberation Sans", sans-serif' >0.0</text>
<line x1="801.3" y1="384.0" x2="803.5" y2="384.0" stroke="#3a3a3a" stroke-width="1" />
<text x="799.1" y="386.9" font-size="8" text-anchor="end" font-weight="bold" fill="#333" font-family='"Liberation Sans", sans-serif' >0.5</text>
<line x1="801.3" y1="345.7" x2="803.5" y2="345.7" stroke="#3a3a3a" stroke-width="1" />
<text x="799.1" y="348.6" font-size="8" text-anchor="end" font-weight="bold" fill="#333" font-family='"Liberation Sans", sans-serif' >1.0</text>
<line x1="801.3" y1="307.3" x2="803.5" y2="307.3" stroke="#3a3a3a" stroke-width="1" />
<text x="799.1" y="310.2" font-size="8" text-anchor="end" font-weight="bold" fill="#333" font-family='"Liberation Sans", sans-serif' >1.5</text>
<line x1="818.9" y1="422.4" x2="818.9" y2="420.6" stroke="#3a3a3a" stroke-width="1" />
<path d="M810.3,422.4 L810.3,345.7 L827.5,345.7 L827.5,422.4" fill="none" stroke="#ff3333" stroke-width="1.6"/>
<line x1="818.9" y1="349.5" x2="818.9" y2="341.8" stroke="#ff3333" stroke-width="1.1" />
<line x1="817.1" y1="341.8" x2="820.7" y2="341.8" stroke="#ff3333" stroke-width="1.1" />
<line x1="817.1" y1="349.5" x2="820.7" y2="349.5" stroke="#ff3333" stroke-width="1.1" />
<circle cx="819.2" cy="337.0" r="2.0" fill="none" stroke="#ff3333" stroke-width="1.1"/>
<circle cx="815.9" cy="350.4" r="2.0" fill="none" stroke="#ff3333" stroke-width="1.1"/>
<circle cx="822.6" cy="348.7" r="2.0" fill="none" stroke="#ff3333" stroke-width="1.1"/>
<line x1="845.2" y1="422.4" x2="845.2" y2="420.6" stroke="#3a3a3a" stroke-width="1" />
<path d="M836.6,422.4 L836.6,388.6 L853.9,388.6 L853.9,422.4" fill="none" stroke="#2a2aff" stroke-width="1.6"/>
<line x1="845.2" y1="389.4" x2="845.2" y2="387.1" stroke="#2a2aff" stroke-width="1.1" />
<line x1="843.5" y1="387.1" x2="847.0" y2="387.1" stroke="#2a2aff" stroke-width="1.1" />
<line x1="843.5" y1="389.4" x2="847.0" y2="389.4" stroke="#2a2aff" stroke-width="1.1" />
<rect x="836.7" y="388.2" width="4.0" height="4.0" fill="none" stroke="#2a2aff" stroke-width="1.1"/>
<rect x="844.0" y="384.8" width="4.0" height="4.0" fill="none" stroke="#2a2aff" stroke-width="1.1"/>
<rect x="850.7" y="384.8" width="4.0" height="4.0" fill="none" stroke="#2a2aff" stroke-width="1.1"/>
<line x1="872.0" y1="422.4" x2="872.0" y2="420.6" stroke="#3a3a3a" stroke-width="1" />
<path d="M863.2,422.4 L863.2,376.4 L880.7,376.4 L880.7,422.4" fill="none" stroke="#1f9d3a" stroke-width="1.6"/>
<line x1="872.0" y1="380.2" x2="872.0" y2="372.5" stroke="#1f9d3a" stroke-width="1.1" />
<line x1="870.2" y1="372.5" x2="873.8" y2="372.5" stroke="#1f9d3a" stroke-width="1.1" />
<line x1="870.2" y1="380.2" x2="873.8" y2="380.2" stroke="#1f9d3a" stroke-width="1.1" />
<polygon points="871.9,366.7 873.9,370.6 869.9,370.6" fill="none" stroke="#1f9d3a" stroke-width="1.1"/>
<polygon points="868.5,377.8 870.5,381.7 866.5,381.7" fill="none" stroke="#1f9d3a" stroke-width="1.1"/>
<polygon points="875.4,376.6 877.4,380.5 873.4,380.5" fill="none" stroke="#1f9d3a" stroke-width="1.1"/>
<line x1="898.5" y1="422.4" x2="898.5" y2="420.6" stroke="#3a3a3a" stroke-width="1" />
<path d="M890.0,422.4 L890.0,364.1 L907.0,364.1 L907.0,422.4" fill="none" stroke="#ffb4b4" stroke-width="1.6"/>
<line x1="898.5" y1="364.9" x2="898.5" y2="362.6" stroke="#ffb4b4" stroke-width="1.1" />
<line x1="896.7" y1="362.6" x2="900.3" y2="362.6" stroke="#ffb4b4" stroke-width="1.1" />
<line x1="896.7" y1="364.9" x2="900.3" y2="364.9" stroke="#ffb4b4" stroke-width="1.1" />
<circle cx="890.8" cy="364.2" r="2.0" fill="none" stroke="#ffb4b4" stroke-width="1.1"/>
<circle cx="898.5" cy="361.8" r="2.0" fill="none" stroke="#ffb4b4" stroke-width="1.1"/>
<circle cx="905.8" cy="363.3" r="2.0" fill="none" stroke="#ffb4b4" stroke-width="1.1"/>
<text transform="translate(778.5,363.4) rotate(-90)" font-size="8.2" font-weight="bold" text-anchor="middle" fill="#222" font-family='"Liberation Sans", sans-serif' dy="3">SORBS2/GAPDH</text>
<path d="M819.2,332.4 L819.2,328.4 L846.0,328.4 L846.0,332.4" fill="none" stroke="#3a3a3a" stroke-width="1"/>
<text x="832.6" y="327.5" font-size="8.3" text-anchor="middle" font-weight="bold" fill="#333" font-family='"Liberation Sans", sans-serif' font-style="italic">###</text>
<path d="M847.2,332.4 L847.2,328.4 L893.4,328.4 L893.4,332.4" fill="none" stroke="#3a3a3a" stroke-width="1"/>
<polygon points="867.10,321.70 867.87,323.54 869.86,323.70 868.34,325.00 868.80,326.95 867.10,325.90 865.40,326.95 865.86,325.00 864.34,323.70 866.33,323.54" fill="#222"/>
<polygon points="873.50,321.70 874.27,323.54 876.26,323.70 874.74,325.00 875.20,326.95 873.50,325.90 871.80,326.95 872.26,325.00 870.74,323.70 872.73,323.54" fill="#222"/>
<text x="818.8" y="431.0" font-size="8.1" text-anchor="middle" font-weight="bold" fill="#222" font-family='"Liberation Sans", sans-serif' >CTRL</text>
<text x="872.7" y="431.0" font-size="8.1" text-anchor="middle" font-weight="bold" fill="#222" font-family='"Liberation Sans", sans-serif' >50</text>
<text x="898.7" y="431.0" font-size="8.1" text-anchor="middle" font-weight="bold" fill="#222" font-family='"Liberation Sans", sans-serif' >100</text>
<line x1="869.0" y1="432.7" x2="909.0" y2="432.7" stroke="#333" stroke-width="1.3" stroke-dasharray="3 2"/>
<text x="886.5" y="441.4" font-size="8.1" text-anchor="middle" font-weight="bold" fill="#222" font-family='"Liberation Sans", sans-serif' >VB (μM)</text>
<line x1="832.0" y1="444.5" x2="909.0" y2="444.5" stroke="#333" stroke-width="1.3" stroke-dasharray="3 2"/>
<text x="872.2" y="454.2" font-size="8.1" text-anchor="middle" font-weight="bold" fill="#222" font-family='"Liberation Sans", sans-serif' >LPS (1 μg/mL)</text>
<line x1="943.5" y1="305.2" x2="943.5" y2="421.8" stroke="#3a3a3a" stroke-width="1" />
<line x1="943.0" y1="421.3" x2="1059.2" y2="421.3" stroke="#3a3a3a" stroke-width="1.1" />
<line x1="943.5" y1="421.3" x2="945.7" y2="421.3" stroke="#3a3a3a" stroke-width="1" />
<text x="941.3" y="424.2" font-size="8" text-anchor="end" font-weight="bold" fill="#333" font-family='"Liberation Sans", sans-serif' >0.0</text>
<line x1="943.5" y1="398.1" x2="945.7" y2="398.1" stroke="#3a3a3a" stroke-width="1" />
<text x="941.3" y="401.0" font-size="8" text-anchor="end" font-weight="bold" fill="#333" font-family='"Liberation Sans", sans-serif' >1.0</text>
<line x1="943.5" y1="374.9" x2="945.7" y2="374.9" stroke="#3a3a3a" stroke-width="1" />
<text x="941.3" y="377.8" font-size="8" text-anchor="end" font-weight="bold" fill="#333" font-family='"Liberation Sans", sans-serif' >2.0</text>
<line x1="943.5" y1="351.6" x2="945.7" y2="351.6" stroke="#3a3a3a" stroke-width="1" />
<text x="941.3" y="354.5" font-size="8" text-anchor="end" font-weight="bold" fill="#333" font-family='"Liberation Sans", sans-serif' >3.0</text>
<line x1="943.5" y1="328.4" x2="945.7" y2="328.4" stroke="#3a3a3a" stroke-width="1" />
<text x="941.3" y="331.3" font-size="8" text-anchor="end" font-weight="bold" fill="#333" font-family='"Liberation Sans", sans-serif' >4.0</text>
<line x1="943.5" y1="305.2" x2="945.7" y2="305.2" stroke="#3a3a3a" stroke-width="1" />
<text x="941.3" y="308.1" font-size="8" text-anchor="end" font-weight="bold" fill="#333" font-family='"Liberation Sans", sans-serif' >5.0</text>
<line x1="961.0" y1="421.3" x2="961.0" y2="419.5" stroke="#3a3a3a" stroke-width="1" />
<path d="M952.4,421.3 L952.4,398.1 L969.6,398.1 L969.6,421.3" fill="none" stroke="#ff3333" stroke-width="1.6"/>
<line x1="961.0" y1="403.0" x2="961.0" y2="393.2" stroke="#ff3333" stroke-width="1.1" />
<line x1="959.2" y1="393.2" x2="962.8" y2="393.2" stroke="#ff3333" stroke-width="1.1" />
<line x1="959.2" y1="403.0" x2="962.8" y2="403.0" stroke="#ff3333" stroke-width="1.1" />
<circle cx="960.9" cy="390.2" r="2.0" fill="none" stroke="#ff3333" stroke-width="1.1"/>
<circle cx="960.9" cy="400.6" r="2.0" fill="none" stroke="#ff3333" stroke-width="1.1"/>
<circle cx="960.9" cy="404.3" r="2.0" fill="none" stroke="#ff3333" stroke-width="1.1"/>
<line x1="988.0" y1="421.3" x2="988.0" y2="419.5" stroke="#3a3a3a" stroke-width="1" />
<path d="M979.2,421.3 L979.2,335.4 L996.7,335.4 L996.7,421.3" fill="none" stroke="#2a2aff" stroke-width="1.6"/>
<line x1="988.0" y1="335.9" x2="988.0" y2="334.9" stroke="#2a2aff" stroke-width="1.1" />
<line x1="986.2" y1="334.9" x2="989.8" y2="334.9" stroke="#2a2aff" stroke-width="1.1" />
<line x1="986.2" y1="335.9" x2="989.8" y2="335.9" stroke="#2a2aff" stroke-width="1.1" />
<rect x="978.6" y="333.6" width="4.0" height="4.0" fill="none" stroke="#2a2aff" stroke-width="1.1"/>
<rect x="985.5" y="333.2" width="4.0" height="4.0" fill="none" stroke="#2a2aff" stroke-width="1.1"/>
<rect x="992.4" y="333.6" width="4.0" height="4.0" fill="none" stroke="#2a2aff" stroke-width="1.1"/>
<line x1="1015.0" y1="421.3" x2="1015.0" y2="419.5" stroke="#3a3a3a" stroke-width="1" />
<path d="M1006.5,421.3 L1006.5,355.6 L1023.5,355.6 L1023.5,421.3" fill="none" stroke="#1f9d3a" stroke-width="1.6"/>
<line x1="1015.0" y1="357.4" x2="1015.0" y2="353.5" stroke="#1f9d3a" stroke-width="1.1" />
<line x1="1013.2" y1="353.5" x2="1016.8" y2="353.5" stroke="#1f9d3a" stroke-width="1.1" />
<line x1="1013.2" y1="357.4" x2="1016.8" y2="357.4" stroke="#1f9d3a" stroke-width="1.1" />
<polygon points="1014.5,349.0 1016.5,352.9 1012.5,352.9" fill="none" stroke="#1f9d3a" stroke-width="1.1"/>
<polygon points="1011.0,355.0 1013.0,358.9 1009.0,358.9" fill="none" stroke="#1f9d3a" stroke-width="1.1"/>
<polygon points="1017.9,355.0 1019.9,358.9 1015.9,358.9" fill="none" stroke="#1f9d3a" stroke-width="1.1"/>
<line x1="1041.4" y1="421.3" x2="1041.4" y2="419.5" stroke="#3a3a3a" stroke-width="1" />
<path d="M1032.8,421.3 L1032.8,411.5 L1050.0,411.5 L1050.0,421.3" fill="none" stroke="#ffb4b4" stroke-width="1.6"/>
<line x1="1041.4" y1="412.5" x2="1041.4" y2="411.1" stroke="#ffb4b4" stroke-width="1.1" />
<line x1="1039.6" y1="411.1" x2="1043.2" y2="411.1" stroke="#ffb4b4" stroke-width="1.1" />
<line x1="1039.6" y1="412.5" x2="1043.2" y2="412.5" stroke="#ffb4b4" stroke-width="1.1" />
<circle cx="1034.0" cy="412.5" r="2.0" fill="none" stroke="#ffb4b4" stroke-width="1.1"/>
<circle cx="1041.3" cy="411.1" r="2.0" fill="none" stroke="#ffb4b4" stroke-width="1.1"/>
<circle cx="1048.5" cy="412.5" r="2.0" fill="none" stroke="#ffb4b4" stroke-width="1.1"/>
<text transform="translate(919.5,361.8) rotate(-90)" font-size="8.2" font-weight="bold" text-anchor="middle" fill="#222" font-family='"Liberation Sans", sans-serif' dy="3">PLXNB2/GAPDH</text>
<path d="M960.7,323.1 L960.7,318.6 L987.7,318.6 L987.7,323.1" fill="none" stroke="#3a3a3a" stroke-width="1"/>
<text x="974.2" y="318.2" font-size="8.3" text-anchor="middle" font-weight="bold" fill="#333" font-family='"Liberation Sans", sans-serif' font-style="italic">###</text>
<path d="M988.2,323.1 L988.2,318.6 L1035.1,318.6 L1035.1,323.1" fill="none" stroke="#3a3a3a" stroke-width="1"/>
<polygon points="1005.25,311.90 1006.02,313.74 1008.01,313.90 1006.49,315.20 1006.95,317.15 1005.25,316.11 1003.55,317.15 1004.01,315.20 1002.49,313.90 1004.48,313.74" fill="#222"/>
<polygon points="1011.65,311.90 1012.42,313.74 1014.41,313.90 1012.89,315.20 1013.35,317.15 1011.65,316.11 1009.95,317.15 1010.41,315.20 1008.89,313.90 1010.88,313.74" fill="#222"/>
<polygon points="1018.05,311.90 1018.82,313.74 1020.81,313.90 1019.29,315.20 1019.75,317.15 1018.05,316.11 1016.35,317.15 1016.81,315.20 1015.29,313.90 1017.28,313.74" fill="#222"/>
<path d="M988.2,331.6 L988.2,327.1 L1012.7,327.1 L1012.7,331.6" fill="none" stroke="#3a3a3a" stroke-width="1"/>
<polygon points="997.25,320.40 998.02,322.24 1000.01,322.40 998.49,323.70 998.95,325.65 997.25,324.61 995.55,325.65 996.01,323.70 994.49,322.40 996.48,322.24" fill="#222"/>
<polygon points="1003.65,320.40 1004.42,322.24 1006.41,322.40 1004.89,323.70 1005.35,325.65 1003.65,324.61 1001.95,325.65 1002.41,323.70 1000.89,322.40 1002.88,322.24" fill="#222"/>
<text x="960.5" y="430.0" font-size="8.1" text-anchor="middle" font-weight="bold" fill="#222" font-family='"Liberation Sans", sans-serif' >CTRL</text>
<text x="1014.7" y="430.0" font-size="8.1" text-anchor="middle" font-weight="bold" fill="#222" font-family='"Liberation Sans", sans-serif' >50</text>
<text x="1041.3" y="430.0" font-size="8.1" text-anchor="middle" font-weight="bold" fill="#222" font-family='"Liberation Sans", sans-serif' >100</text>
<line x1="1011.6" y1="431.7" x2="1051.8" y2="431.7" stroke="#333" stroke-width="1.3" stroke-dasharray="3 2"/>
<text x="1029.2" y="440.4" font-size="8.1" text-anchor="middle" font-weight="bold" fill="#222" font-family='"Liberation Sans", sans-serif' >VB (μM)</text>
<line x1="974.8" y1="443.5" x2="1051.8" y2="443.5" stroke="#333" stroke-width="1.3" stroke-dasharray="3 2"/>
<text x="1014.4" y="453.2" font-size="8.1" text-anchor="middle" font-weight="bold" fill="#222" font-family='"Liberation Sans", sans-serif' >LPS (1 μg/mL)</text>
<line x1="800.2" y1="527.2" x2="800.2" y2="644.6" stroke="#3a3a3a" stroke-width="1" />
<line x1="799.7" y1="644.1" x2="915.3" y2="644.1" stroke="#3a3a3a" stroke-width="1.1" />
<line x1="800.2" y1="644.1" x2="802.4" y2="644.1" stroke="#3a3a3a" stroke-width="1" />
<text x="798.0" y="647.0" font-size="8" text-anchor="end" font-weight="bold" fill="#333" font-family='"Liberation Sans", sans-serif' >0.0</text>
<line x1="800.2" y1="614.9" x2="802.4" y2="614.9" stroke="#3a3a3a" stroke-width="1" />
<text x="798.0" y="617.8" font-size="8" text-anchor="end" font-weight="bold" fill="#333" font-family='"Liberation Sans", sans-serif' >0.6</text>
<line x1="800.2" y1="585.7" x2="802.4" y2="585.7" stroke="#3a3a3a" stroke-width="1" />
<text x="798.0" y="588.6" font-size="8" text-anchor="end" font-weight="bold" fill="#333" font-family='"Liberation Sans", sans-serif' >1.2</text>
<line x1="800.2" y1="556.4" x2="802.4" y2="556.4" stroke="#3a3a3a" stroke-width="1" />
<text x="798.0" y="559.3" font-size="8" text-anchor="end" font-weight="bold" fill="#333" font-family='"Liberation Sans", sans-serif' >1.8</text>
<line x1="800.2" y1="527.2" x2="802.4" y2="527.2" stroke="#3a3a3a" stroke-width="1" />
<text x="798.0" y="530.1" font-size="8" text-anchor="end" font-weight="bold" fill="#333" font-family='"Liberation Sans", sans-serif' >2.4</text>
<line x1="817.5" y1="644.1" x2="817.5" y2="642.3" stroke="#3a3a3a" stroke-width="1" />
<path d="M808.7,644.1 L808.7,595.9 L826.4,595.9 L826.4,644.1" fill="none" stroke="#ff3333" stroke-width="1.6"/>
<line x1="817.5" y1="601.7" x2="817.5" y2="589.1" stroke="#ff3333" stroke-width="1.1" />
<line x1="815.8" y1="589.1" x2="819.3" y2="589.1" stroke="#ff3333" stroke-width="1.1" />
<line x1="815.8" y1="601.7" x2="819.3" y2="601.7" stroke="#ff3333" stroke-width="1.1" />
<circle cx="817.7" cy="583.7" r="2.0" fill="none" stroke="#ff3333" stroke-width="1.1"/>
<circle cx="817.7" cy="596.4" r="2.0" fill="none" stroke="#ff3333" stroke-width="1.1"/>
<circle cx="817.7" cy="606.1" r="2.0" fill="none" stroke="#ff3333" stroke-width="1.1"/>
<line x1="844.2" y1="644.1" x2="844.2" y2="642.3" stroke="#3a3a3a" stroke-width="1" />
<path d="M835.5,644.1 L835.5,631.4 L853.0,631.4 L853.0,644.1" fill="none" stroke="#2a2aff" stroke-width="1.6"/>
<line x1="844.2" y1="632.4" x2="844.2" y2="630.0" stroke="#2a2aff" stroke-width="1.1" />
<line x1="842.5" y1="630.0" x2="846.0" y2="630.0" stroke="#2a2aff" stroke-width="1.1" />
<line x1="842.5" y1="632.4" x2="846.0" y2="632.4" stroke="#2a2aff" stroke-width="1.1" />
<rect x="838.9" y="627.5" width="4.0" height="4.0" fill="none" stroke="#2a2aff" stroke-width="1.1"/>
<rect x="838.9" y="630.9" width="4.0" height="4.0" fill="none" stroke="#2a2aff" stroke-width="1.1"/>
<rect x="845.5" y="629.9" width="4.0" height="4.0" fill="none" stroke="#2a2aff" stroke-width="1.1"/>
<line x1="871.1" y1="644.1" x2="871.1" y2="642.3" stroke="#3a3a3a" stroke-width="1" />
<path d="M862.3,644.1 L862.3,571.5 L880.0,571.5 L880.0,644.1" fill="none" stroke="#1f9d3a" stroke-width="1.6"/>
<line x1="871.1" y1="583.7" x2="871.1" y2="556.9" stroke="#1f9d3a" stroke-width="1.1" />
<line x1="869.4" y1="556.9" x2="872.9" y2="556.9" stroke="#1f9d3a" stroke-width="1.1" />
<line x1="869.4" y1="583.7" x2="872.9" y2="583.7" stroke="#1f9d3a" stroke-width="1.1" />
<polygon points="871.3,554.5 873.3,558.4 869.3,558.4" fill="none" stroke="#1f9d3a" stroke-width="1.1"/>
<polygon points="871.3,559.4 873.3,563.3 869.3,563.3" fill="none" stroke="#1f9d3a" stroke-width="1.1"/>
<polygon points="871.3,594.0 873.3,597.9 869.3,597.9" fill="none" stroke="#1f9d3a" stroke-width="1.1"/>
<line x1="898.2" y1="644.1" x2="898.2" y2="642.3" stroke="#3a3a3a" stroke-width="1" />
<path d="M889.6,644.1 L889.6,589.1 L906.8,589.1 L906.8,644.1" fill="none" stroke="#ffb4b4" stroke-width="1.6"/>
<line x1="898.2" y1="597.3" x2="898.2" y2="582.3" stroke="#ffb4b4" stroke-width="1.1" />
<line x1="896.4" y1="582.3" x2="900.0" y2="582.3" stroke="#ffb4b4" stroke-width="1.1" />
<line x1="896.4" y1="597.3" x2="900.0" y2="597.3" stroke="#ffb4b4" stroke-width="1.1" />
<polygon points="894.7,579.4 897.1,581.8 894.7,584.2 892.3,581.8" fill="none" stroke="#ffb4b4" stroke-width="1.1"/>
<polygon points="901.2,579.9 903.6,582.3 901.2,584.7 898.8,582.3" fill="none" stroke="#ffb4b4" stroke-width="1.1"/>
<polygon points="898.5,599.3 900.9,601.7 898.5,604.1 896.1,601.7" fill="none" stroke="#ffb4b4" stroke-width="1.1"/>
<text transform="translate(778.5,584.2) rotate(-90)" font-size="8.2" font-weight="bold" text-anchor="middle" fill="#222" font-family='"Liberation Sans", sans-serif' dy="3">SORBS2/GAPDH</text>
<path d="M817.7,543.5 L817.7,539.0 L843.8,539.0 L843.8,543.5" fill="none" stroke="#3a3a3a" stroke-width="1"/>
<text x="830.8" y="538.1" font-size="8.3" text-anchor="middle" font-weight="bold" fill="#333" font-family='"Liberation Sans", sans-serif' font-style="italic">#</text>
<path d="M844.9,543.5 L844.9,539.0 L893.0,539.0 L893.0,543.5" fill="none" stroke="#3a3a3a" stroke-width="1"/>
<polygon points="868.95,532.30 869.72,534.14 871.71,534.30 870.19,535.60 870.65,537.55 868.95,536.50 867.25,537.55 867.71,535.60 866.19,534.30 868.18,534.14" fill="#222"/>
<path d="M844.5,552.9 L844.5,548.4 L869.5,548.4 L869.5,552.9" fill="none" stroke="#3a3a3a" stroke-width="1"/>
<polygon points="853.80,541.70 854.57,543.54 856.56,543.70 855.04,545.00 855.50,546.95 853.80,545.90 852.10,546.95 852.56,545.00 851.04,543.70 853.03,543.54" fill="#222"/>
<polygon points="860.20,541.70 860.97,543.54 862.96,543.70 861.44,545.00 861.90,546.95 860.20,545.90 858.50,546.95 858.96,545.00 857.44,543.70 859.43,543.54" fill="#222"/>
<text x="817.0" y="653.2" font-size="8.1" text-anchor="middle" font-weight="bold" fill="#222" font-family='"Liberation Sans", sans-serif' >CTRL</text>
<text x="871.7" y="653.2" font-size="8.1" text-anchor="middle" font-weight="bold" fill="#222" font-family='"Liberation Sans", sans-serif' >25</text>
<text x="898.2" y="653.2" font-size="8.1" text-anchor="middle" font-weight="bold" fill="#222" font-family='"Liberation Sans", sans-serif' >50</text>
<line x1="867.3" y1="654.9" x2="908.6" y2="654.9" stroke="#333" stroke-width="1.3" stroke-dasharray="3 2"/>
<text x="885.5" y="663.6" font-size="8.1" text-anchor="middle" font-weight="bold" fill="#222" font-family='"Liberation Sans", sans-serif' >VB (μM)</text>
<line x1="831.0" y1="666.7" x2="908.6" y2="666.7" stroke="#333" stroke-width="1.3" stroke-dasharray="3 2"/>
<text x="872.6" y="676.4" font-size="8.1" text-anchor="middle" font-weight="bold" fill="#222" font-family='"Liberation Sans", sans-serif' >Aβ (5 μM)</text>
<line x1="943.5" y1="527.9" x2="943.5" y2="644.1" stroke="#3a3a3a" stroke-width="1" />
<line x1="943.0" y1="643.6" x2="1058.5" y2="643.6" stroke="#3a3a3a" stroke-width="1.1" />
<line x1="943.5" y1="643.6" x2="945.7" y2="643.6" stroke="#3a3a3a" stroke-width="1" />
<text x="941.3" y="646.5" font-size="8" text-anchor="end" font-weight="bold" fill="#333" font-family='"Liberation Sans", sans-serif' >0.0</text>
<line x1="943.5" y1="620.5" x2="945.7" y2="620.5" stroke="#3a3a3a" stroke-width="1" />
<text x="941.3" y="623.4" font-size="8" text-anchor="end" font-weight="bold" fill="#333" font-family='"Liberation Sans", sans-serif' >0.5</text>
<line x1="943.5" y1="597.3" x2="945.7" y2="597.3" stroke="#3a3a3a" stroke-width="1" />
<text x="941.3" y="600.2" font-size="8" text-anchor="end" font-weight="bold" fill="#333" font-family='"Liberation Sans", sans-serif' >1.0</text>
<line x1="943.5" y1="574.2" x2="945.7" y2="574.2" stroke="#3a3a3a" stroke-width="1" />
<text x="941.3" y="577.1" font-size="8" text-anchor="end" font-weight="bold" fill="#333" font-family='"Liberation Sans", sans-serif' >1.5</text>
<line x1="943.5" y1="551.0" x2="945.7" y2="551.0" stroke="#3a3a3a" stroke-width="1" />
<text x="941.3" y="553.9" font-size="8" text-anchor="end" font-weight="bold" fill="#333" font-family='"Liberation Sans", sans-serif' >2.0</text>
<line x1="943.5" y1="527.9" x2="945.7" y2="527.9" stroke="#3a3a3a" stroke-width="1" />
<text x="941.3" y="530.8" font-size="8" text-anchor="end" font-weight="bold" fill="#333" font-family='"Liberation Sans", sans-serif' >2.5</text>
<line x1="961.0" y1="643.6" x2="961.0" y2="641.8" stroke="#3a3a3a" stroke-width="1" />
<path d="M952.4,643.6 L952.4,597.3 L969.6,597.3 L969.6,643.6" fill="none" stroke="#ff3333" stroke-width="1.6"/>
<line x1="961.0" y1="602.4" x2="961.0" y2="592.2" stroke="#ff3333" stroke-width="1.1" />
<line x1="959.2" y1="592.2" x2="962.8" y2="592.2" stroke="#ff3333" stroke-width="1.1" />
<line x1="959.2" y1="602.4" x2="962.8" y2="602.4" stroke="#ff3333" stroke-width="1.1" />
<circle cx="960.9" cy="588.5" r="2.0" fill="none" stroke="#ff3333" stroke-width="1.1"/>
<circle cx="957.6" cy="602.9" r="2.0" fill="none" stroke="#ff3333" stroke-width="1.1"/>
<circle cx="964.7" cy="601.0" r="2.0" fill="none" stroke="#ff3333" stroke-width="1.1"/>
<line x1="987.4" y1="643.6" x2="987.4" y2="641.8" stroke="#3a3a3a" stroke-width="1" />
<path d="M978.8,643.6 L978.8,562.1 L996.0,562.1 L996.0,643.6" fill="none" stroke="#2a2aff" stroke-width="1.6"/>
<line x1="987.4" y1="569.5" x2="987.4" y2="554.7" stroke="#2a2aff" stroke-width="1.1" />
<line x1="985.6" y1="554.7" x2="989.2" y2="554.7" stroke="#2a2aff" stroke-width="1.1" />
<line x1="985.6" y1="569.5" x2="989.2" y2="569.5" stroke="#2a2aff" stroke-width="1.1" />
<rect x="982.4" y="550.9" width="4.0" height="4.0" fill="none" stroke="#2a2aff" stroke-width="1.1"/>
<rect x="988.9" y="554.6" width="4.0" height="4.0" fill="none" stroke="#2a2aff" stroke-width="1.1"/>
<rect x="985.5" y="574.0" width="4.0" height="4.0" fill="none" stroke="#2a2aff" stroke-width="1.1"/>
<line x1="1014.2" y1="643.6" x2="1014.2" y2="641.8" stroke="#3a3a3a" stroke-width="1" />
<path d="M1005.6,643.6 L1005.6,590.8 L1022.8,590.8 L1022.8,643.6" fill="none" stroke="#1f9d3a" stroke-width="1.6"/>
<line x1="1014.2" y1="597.3" x2="1014.2" y2="584.3" stroke="#1f9d3a" stroke-width="1.1" />
<line x1="1012.4" y1="584.3" x2="1016.0" y2="584.3" stroke="#1f9d3a" stroke-width="1.1" />
<line x1="1012.4" y1="597.3" x2="1016.0" y2="597.3" stroke="#1f9d3a" stroke-width="1.1" />
<polygon points="1011.2,581.0 1013.2,584.9 1009.2,584.9" fill="none" stroke="#1f9d3a" stroke-width="1.1"/>
<polygon points="1017.9,582.4 1019.9,586.3 1015.9,586.3" fill="none" stroke="#1f9d3a" stroke-width="1.1"/>
<polygon points="1013.9,601.8 1015.9,605.7 1011.9,605.7" fill="none" stroke="#1f9d3a" stroke-width="1.1"/>
<line x1="1041.0" y1="643.6" x2="1041.0" y2="641.8" stroke="#3a3a3a" stroke-width="1" />
<path d="M1032.4,643.6 L1032.4,591.7 L1049.6,591.7 L1049.6,643.6" fill="none" stroke="#ffb4b4" stroke-width="1.6"/>
<line x1="1041.0" y1="596.4" x2="1041.0" y2="587.1" stroke="#ffb4b4" stroke-width="1.1" />
<line x1="1039.2" y1="587.1" x2="1042.8" y2="587.1" stroke="#ffb4b4" stroke-width="1.1" />
<line x1="1039.2" y1="596.4" x2="1042.8" y2="596.4" stroke="#ffb4b4" stroke-width="1.1" />
<circle cx="1037.3" cy="586.2" r="2.0" fill="none" stroke="#ffb4b4" stroke-width="1.1"/>
<circle cx="1043.5" cy="587.6" r="2.0" fill="none" stroke="#ffb4b4" stroke-width="1.1"/>
<circle cx="1040.6" cy="598.2" r="2.0" fill="none" stroke="#ffb4b4" stroke-width="1.1"/>
<text transform="translate(919.5,584.2) rotate(-90)" font-size="8.2" font-weight="bold" text-anchor="middle" fill="#222" font-family='"Liberation Sans", sans-serif' dy="3">PLXNB2/GAPDH</text>
<path d="M960.9,542.0 L960.9,537.5 L987.7,537.5 L987.7,542.0" fill="none" stroke="#3a3a3a" stroke-width="1"/>
<text x="974.3" y="536.3" font-size="8.3" text-anchor="middle" font-weight="bold" fill="#333" font-family='"Liberation Sans", sans-serif' font-style="italic">##</text>
<path d="M988.2,542.0 L988.2,537.5 L1035.1,537.5 L1035.1,542.0" fill="none" stroke="#3a3a3a" stroke-width="1"/>
<polygon points="1011.65,530.80 1012.42,532.64 1014.41,532.80 1012.89,534.10 1013.35,536.05 1011.65,535.00 1009.95,536.05 1010.41,534.10 1008.89,532.80 1010.88,532.64" fill="#222"/>
<path d="M987.7,550.7 L987.7,546.2 L1012.7,546.2 L1012.7,550.7" fill="none" stroke="#3a3a3a" stroke-width="1"/>
<polygon points="1000.20,539.50 1000.97,541.34 1002.96,541.50 1001.44,542.80 1001.90,544.75 1000.20,543.71 998.50,544.75 998.96,542.80 997.44,541.50 999.43,541.34" fill="#222"/>
<text x="960.8" y="652.4" font-size="8.1" text-anchor="middle" font-weight="bold" fill="#222" font-family='"Liberation Sans", sans-serif' >CTRL</text>
<text x="1014.7" y="652.4" font-size="8.1" text-anchor="middle" font-weight="bold" fill="#222" font-family='"Liberation Sans", sans-serif' >25</text>
<text x="1040.3" y="652.4" font-size="8.1" text-anchor="middle" font-weight="bold" fill="#222" font-family='"Liberation Sans", sans-serif' >50</text>
<line x1="1010.0" y1="654.1" x2="1051.2" y2="654.1" stroke="#333" stroke-width="1.3" stroke-dasharray="3 2"/>
<text x="1028.1" y="662.8" font-size="8.1" text-anchor="middle" font-weight="bold" fill="#222" font-family='"Liberation Sans", sans-serif' >VB (μM)</text>
<line x1="974.8" y1="665.9" x2="1051.2" y2="665.9" stroke="#333" stroke-width="1.3" stroke-dasharray="3 2"/>
<text x="1015.2" y="675.6" font-size="8.1" text-anchor="middle" font-weight="bold" fill="#222" font-family='"Liberation Sans", sans-serif' >Aβ (5 μM)</text>
</svg></body></html>
